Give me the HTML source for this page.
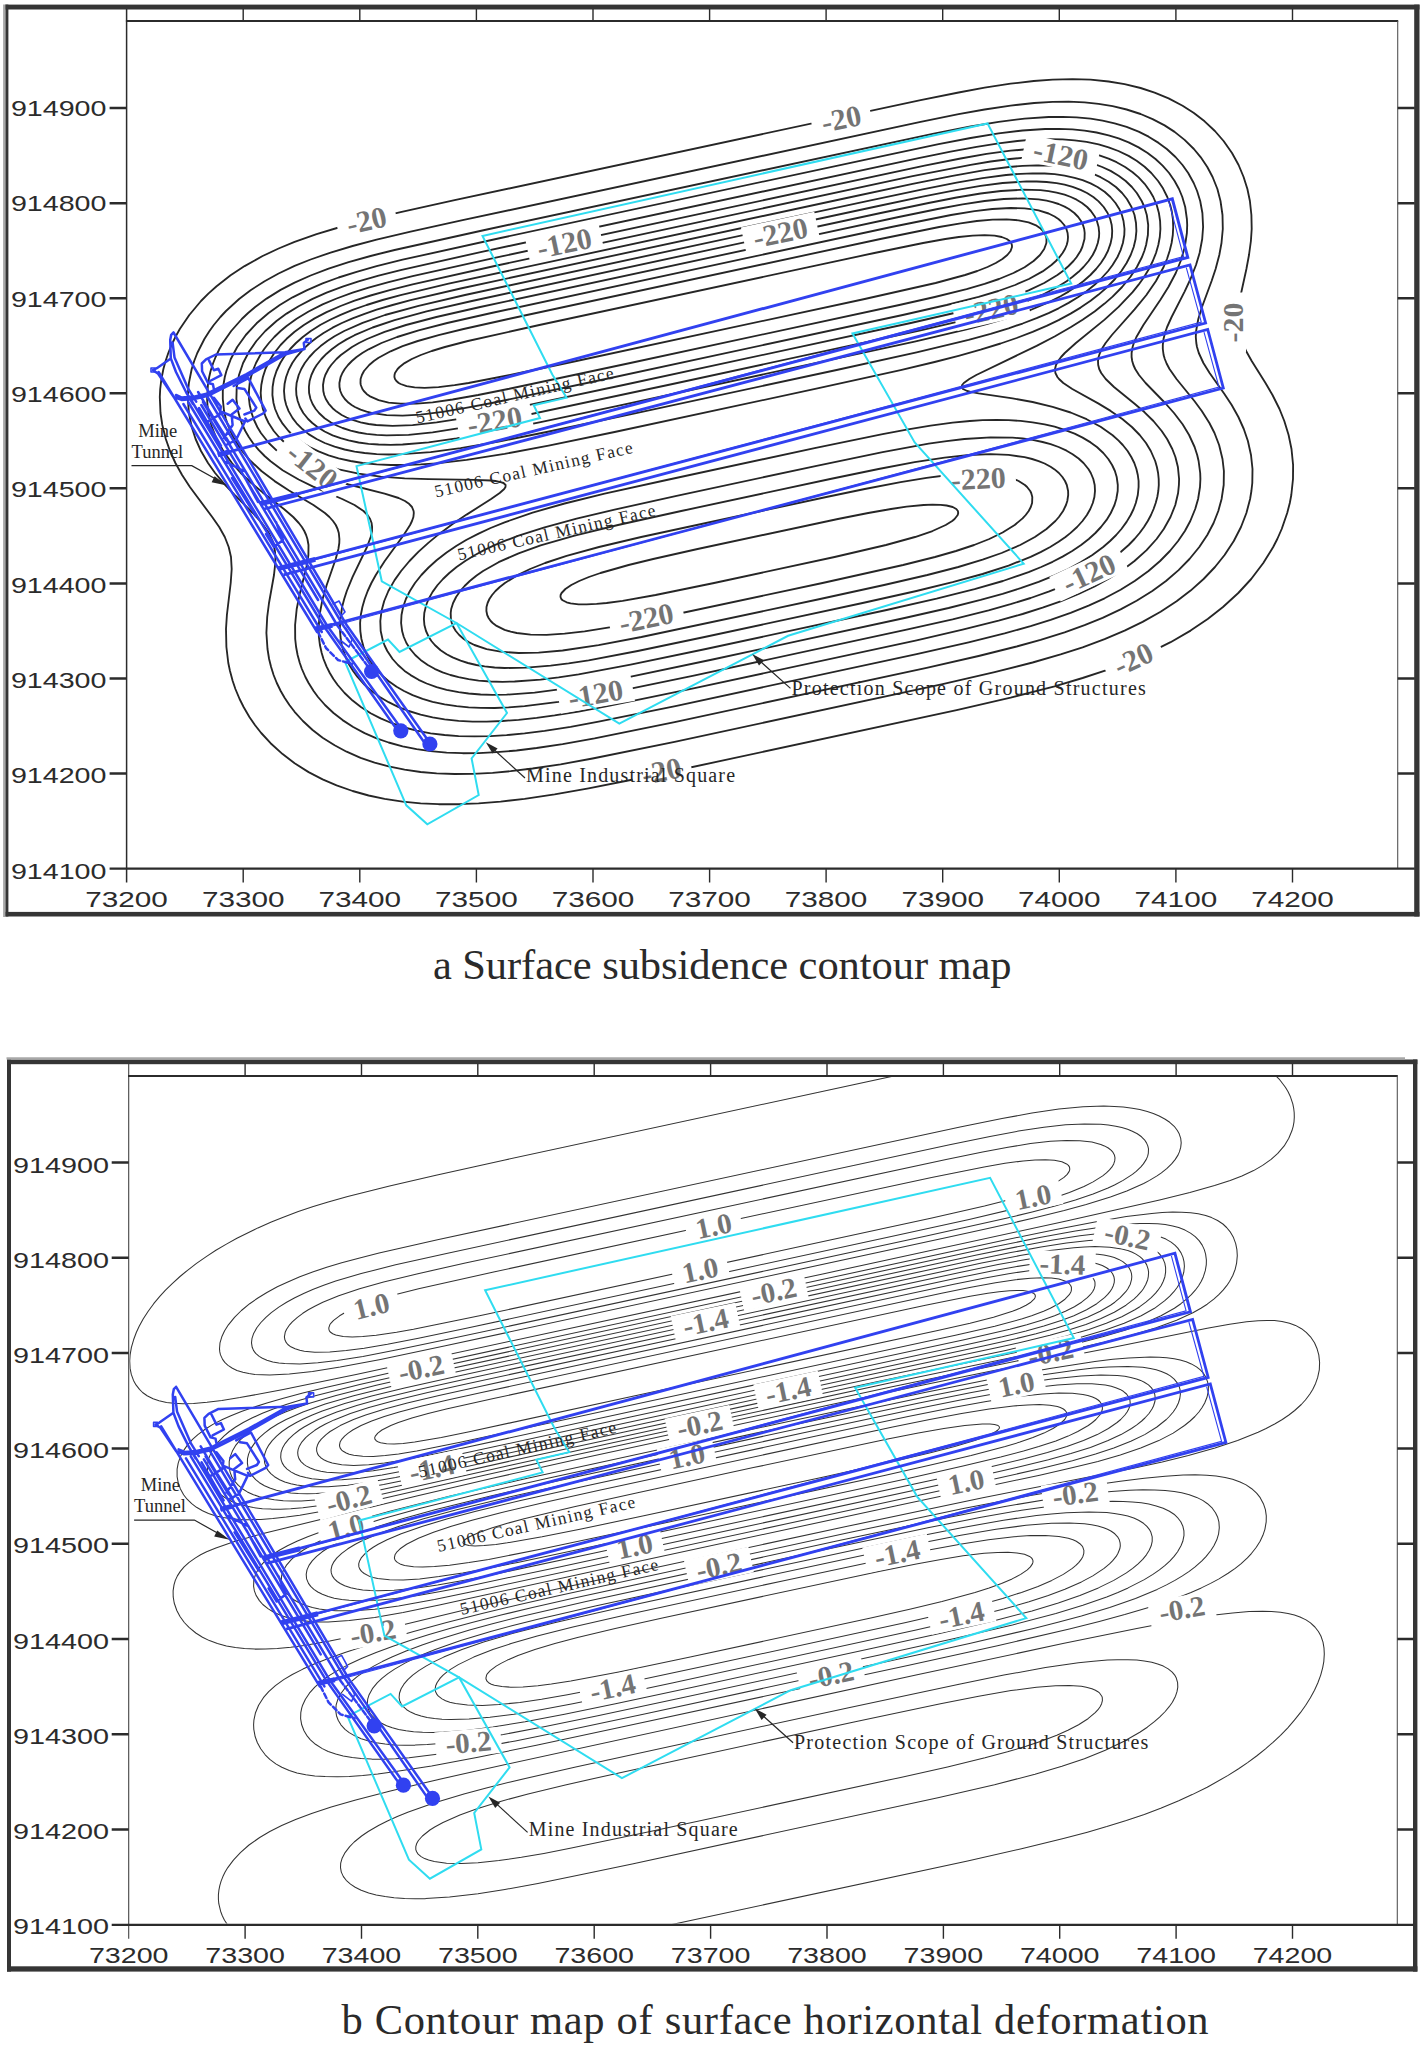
<!DOCTYPE html>
<html><head><meta charset="utf-8"><title>Contour maps</title>
<style>html,body{margin:0;padding:0;background:#fff}svg{display:block}</style></head>
<body>
<svg width="1422" height="2046" viewBox="0 0 1422 2046">
<rect width="1422" height="2046" fill="#fff"/>
<g fill="#353535">
<rect x="5.3" y="4.6" width="3.1" height="911.9"/>
<rect x="5.3" y="4.6" width="1414.2" height="4.9"/>
<rect x="1414.2" y="4.6" width="5.3" height="911.9"/>
<rect x="5.3" y="911.9" width="1414.2" height="4.6"/>
</g>
<path d="M4.2,4.6V917" stroke="#a8a8a8" stroke-width="2.2"/>
<g stroke="#2b2b2b" fill="none">
<path d="M126.6,9.0V882.6" stroke-width="1.5"/>
<path d="M125.89999999999999,21H1398.2" stroke-width="2"/>
<path d="M1397.7,21V868.6" stroke-width="1.1" stroke="#555"/>
<path d="M109.6,868.6H1414.7" stroke-width="2.2"/>
<path d="M243.2,9.0V21M243.2,868.6V882.6M359.8,9.0V21M359.8,868.6V882.6M476.4,9.0V21M476.4,868.6V882.6M593.0,9.0V21M593.0,868.6V882.6M709.6,9.0V21M709.6,868.6V882.6M826.1,9.0V21M826.1,868.6V882.6M942.7,9.0V21M942.7,868.6V882.6M1059.3,9.0V21M1059.3,868.6V882.6M1175.9,9.0V21M1175.9,868.6V882.6M1292.5,9.0V21M1292.5,868.6V882.6" stroke-width="1.4"/>
<path d="M109.6,108.1H126.6M1397.7,108.1H1414.7M109.6,203.2H126.6M1397.7,203.2H1414.7M109.6,298.2H126.6M1397.7,298.2H1414.7M109.6,393.3H126.6M1397.7,393.3H1414.7M109.6,488.3H126.6M1397.7,488.3H1414.7M109.6,583.4H126.6M1397.7,583.4H1414.7M109.6,678.5H126.6M1397.7,678.5H1414.7M109.6,773.5H126.6M1397.7,773.5H1414.7" stroke-width="2.5"/>
</g>
<g font-family="'Liberation Sans',sans-serif" font-size="21.6" fill="#2b2b2b">
<text x="10.9" y="116.2" textLength="95.6" lengthAdjust="spacingAndGlyphs">914900</text>
<text x="10.9" y="211.4" textLength="95.6" lengthAdjust="spacingAndGlyphs">914800</text>
<text x="10.9" y="306.8" textLength="95.6" lengthAdjust="spacingAndGlyphs">914700</text>
<text x="10.9" y="402.0" textLength="95.6" lengthAdjust="spacingAndGlyphs">914600</text>
<text x="10.9" y="497.4" textLength="95.6" lengthAdjust="spacingAndGlyphs">914500</text>
<text x="10.9" y="592.6" textLength="95.6" lengthAdjust="spacingAndGlyphs">914400</text>
<text x="10.9" y="687.9" textLength="95.6" lengthAdjust="spacingAndGlyphs">914300</text>
<text x="10.9" y="783.2" textLength="95.6" lengthAdjust="spacingAndGlyphs">914200</text>
<text x="10.9" y="878.5" textLength="95.6" lengthAdjust="spacingAndGlyphs">914100</text>
<text x="85.3" y="906.6" textLength="82.6" lengthAdjust="spacingAndGlyphs">73200</text>
<text x="201.9" y="906.6" textLength="82.6" lengthAdjust="spacingAndGlyphs">73300</text>
<text x="318.5" y="906.6" textLength="82.6" lengthAdjust="spacingAndGlyphs">73400</text>
<text x="435.1" y="906.6" textLength="82.6" lengthAdjust="spacingAndGlyphs">73500</text>
<text x="551.7" y="906.6" textLength="82.6" lengthAdjust="spacingAndGlyphs">73600</text>
<text x="668.3" y="906.6" textLength="82.6" lengthAdjust="spacingAndGlyphs">73700</text>
<text x="784.8" y="906.6" textLength="82.6" lengthAdjust="spacingAndGlyphs">73800</text>
<text x="901.4" y="906.6" textLength="82.6" lengthAdjust="spacingAndGlyphs">73900</text>
<text x="1018.0" y="906.6" textLength="82.6" lengthAdjust="spacingAndGlyphs">74000</text>
<text x="1134.6" y="906.6" textLength="82.6" lengthAdjust="spacingAndGlyphs">74100</text>
<text x="1251.2" y="906.6" textLength="82.6" lengthAdjust="spacingAndGlyphs">74200</text>
</g>
<g fill="#353535">
<rect x="7" y="1059.5" width="4.0" height="912.1"/>
<rect x="7" y="1059.5" width="1410.4" height="4.7"/>
<rect x="1413" y="1059.5" width="4.4" height="912.1"/>
<rect x="7" y="1966.3" width="1410.4" height="5.3"/>
</g>
<path d="M6.5,1058.4H1405" stroke="#a8a8a8" stroke-width="2.2"/>
<g stroke="#2b2b2b" fill="none">
<path d="M128.7,1063.7V1938.8" stroke-width="1.1" stroke="#444"/>
<path d="M127.99999999999999,1076H1397.8" stroke-width="2"/>
<path d="M1397.3,1076V1924.8" stroke-width="1.1" stroke="#555"/>
<path d="M111.69999999999999,1924.8H1413.5" stroke-width="2.2"/>
<path d="M245.1,1063.7V1076M245.1,1924.8V1938.8M361.5,1063.7V1076M361.5,1924.8V1938.8M477.8,1063.7V1076M477.8,1924.8V1938.8M594.2,1063.7V1076M594.2,1924.8V1938.8M710.6,1063.7V1076M710.6,1924.8V1938.8M827.0,1063.7V1076M827.0,1924.8V1938.8M943.4,1063.7V1076M943.4,1924.8V1938.8M1059.7,1063.7V1076M1059.7,1924.8V1938.8M1176.1,1063.7V1076M1176.1,1924.8V1938.8M1292.5,1063.7V1076M1292.5,1924.8V1938.8" stroke-width="1.4"/>
<path d="M111.69999999999999,1162.5H128.7M1397.3,1162.5H1413.5M111.69999999999999,1257.8H128.7M1397.3,1257.8H1413.5M111.69999999999999,1353.1H128.7M1397.3,1353.1H1413.5M111.69999999999999,1448.4H128.7M1397.3,1448.4H1413.5M111.69999999999999,1543.7H128.7M1397.3,1543.7H1413.5M111.69999999999999,1639.0H128.7M1397.3,1639.0H1413.5M111.69999999999999,1734.2H128.7M1397.3,1734.2H1413.5M111.69999999999999,1829.5H128.7M1397.3,1829.5H1413.5" stroke-width="2.5"/>
</g>
<g font-family="'Liberation Sans',sans-serif" font-size="21.6" fill="#2b2b2b">
<text x="13.0" y="1172.5" textLength="96" lengthAdjust="spacingAndGlyphs">914900</text>
<text x="13.0" y="1267.7" textLength="96" lengthAdjust="spacingAndGlyphs">914800</text>
<text x="13.0" y="1362.9" textLength="96" lengthAdjust="spacingAndGlyphs">914700</text>
<text x="13.0" y="1458.1" textLength="96" lengthAdjust="spacingAndGlyphs">914600</text>
<text x="13.0" y="1553.3" textLength="96" lengthAdjust="spacingAndGlyphs">914500</text>
<text x="13.0" y="1648.5" textLength="96" lengthAdjust="spacingAndGlyphs">914400</text>
<text x="13.0" y="1743.7" textLength="96" lengthAdjust="spacingAndGlyphs">914300</text>
<text x="13.0" y="1838.9" textLength="96" lengthAdjust="spacingAndGlyphs">914200</text>
<text x="13.0" y="1934.1" textLength="96" lengthAdjust="spacingAndGlyphs">914100</text>
<text x="88.9" y="1962.5" textLength="79.6" lengthAdjust="spacingAndGlyphs">73200</text>
<text x="205.3" y="1962.5" textLength="79.6" lengthAdjust="spacingAndGlyphs">73300</text>
<text x="321.7" y="1962.5" textLength="79.6" lengthAdjust="spacingAndGlyphs">73400</text>
<text x="438.0" y="1962.5" textLength="79.6" lengthAdjust="spacingAndGlyphs">73500</text>
<text x="554.4" y="1962.5" textLength="79.6" lengthAdjust="spacingAndGlyphs">73600</text>
<text x="670.8" y="1962.5" textLength="79.6" lengthAdjust="spacingAndGlyphs">73700</text>
<text x="787.2" y="1962.5" textLength="79.6" lengthAdjust="spacingAndGlyphs">73800</text>
<text x="903.6" y="1962.5" textLength="79.6" lengthAdjust="spacingAndGlyphs">73900</text>
<text x="1019.9" y="1962.5" textLength="79.6" lengthAdjust="spacingAndGlyphs">74000</text>
<text x="1136.3" y="1962.5" textLength="79.6" lengthAdjust="spacingAndGlyphs">74100</text>
<text x="1252.7" y="1962.5" textLength="79.6" lengthAdjust="spacingAndGlyphs">74200</text>
</g>
<g font-family="'Liberation Serif',serif" fill="#2a2a2a" font-size="42.5">
<text x="432.9" y="978.9" textLength="578.7" lengthAdjust="spacing">a Surface subsidence contour map</text>
<text x="341.4" y="2033.7" textLength="867.2" lengthAdjust="spacing">b Contour map of surface horizontal deformation</text>
</g>
<clipPath id="c1"><rect x="127.4" y="22" width="1269.8" height="845.5"/></clipPath>
<g clip-path="url(#c1)" fill="none" stroke="#262626" stroke-width="1.85" stroke-linejoin="round">
<path d="M1033.8,81.0 1052.6,79.6 1072.6,79.1 1090.6,79.7 1108.6,81.5 1124.6,84.1 1140.6,88.0 1154.6,92.6 1168.6,98.4 1182.6,105.7 1193.9,113.0 1204.6,121.3 1214.9,131.0 1223.6,141.0 1232.0,153.0 1238.6,165.0 1243.6,177.0 1247.4,189.0 1249.9,201.0 1251.4,215.0 1251.7,229.0 1250.9,241.0 1249.0,255.0 1246.4,269.0 1240.7,295.0 1238.7,307.0 1237.9,319.0 1238.7,329.0 1241.1,339.0 1246.1,351.0 1251.7,361.0 1265.5,383.0 1272.5,395.0 1279.5,409.0 1284.3,421.0 1288.6,435.0 1291.5,449.0 1293.1,465.0 1293.0,479.0 1291.3,495.0 1289.8,503.0 1287.2,513.0 1281.7,529.0 1277.3,539.0 1273.2,547.0 1263.3,563.0 1251.2,579.0 1238.3,593.0 1223.0,607.0 1207.7,619.0 1190.6,630.6 1170.6,642.2 1150.6,652.2 1128.6,661.7 1106.6,670.1 1082.6,678.0 1054.6,686.3 1010.6,697.6 956.6,710.1 678.6,770.0 630.6,780.0 588.6,788.3 554.6,794.3 524.6,798.8 500.6,801.6 478.6,803.4 458.6,804.2 438.6,804.2 420.6,803.4 402.6,801.7 384.6,798.9 368.6,795.5 352.6,791.0 336.6,785.4 322.6,779.4 308.6,772.1 294.6,763.2 282.6,754.1 270.6,743.2 261.2,733.0 254.9,725.0 249.4,717.0 243.6,707.0 239.6,699.0 235.4,689.0 232.7,681.0 230.0,671.0 228.3,663.0 226.4,647.0 226.0,629.0 226.9,615.0 230.7,583.0 231.7,569.0 231.0,557.0 228.7,547.0 224.8,537.0 219.2,527.0 212.2,517.0 189.9,487.0 182.1,475.0 175.4,463.0 170.0,451.0 165.8,439.0 162.3,425.0 160.5,413.0 159.8,397.0 160.2,389.0 161.4,379.0 163.4,369.0 165.6,361.0 168.3,353.0 171.5,345.0 175.4,337.0 179.8,329.0 189.3,315.0 201.0,301.0 208.6,293.4 216.6,286.2 230.6,275.3 244.6,266.1 262.6,256.0 278.6,248.5 294.6,241.9 316.6,234.2 338.6,227.5 366.6,220.1 400.6,212.1 454.6,200.2 920.6,100.1 958.6,92.5 984.6,87.7 1010.6,83.7Z"/>
<path d="M1034.2,103.0 1052.6,101.9 1068.6,101.7 1084.6,102.4 1098.6,103.8 1112.6,106.1 1126.6,109.5 1140.6,114.0 1152.6,119.1 1164.6,125.4 1174.6,131.9 1184.6,139.9 1193.9,149.0 1200.6,157.1 1207.3,167.0 1212.6,177.0 1217.4,189.0 1220.5,201.0 1222.5,215.0 1222.8,229.0 1221.5,243.0 1219.3,255.0 1215.6,269.0 1211.6,281.0 1202.0,307.0 1198.3,319.0 1196.1,331.0 1195.8,337.0 1196.3,343.0 1197.0,347.0 1198.8,353.0 1203.4,363.0 1209.6,373.0 1224.6,394.2 1231.7,405.0 1238.4,417.0 1243.8,429.0 1247.9,441.0 1251.0,455.0 1252.5,469.0 1252.3,483.0 1251.4,491.0 1250.1,499.0 1246.4,513.0 1241.0,527.0 1233.8,541.0 1224.6,555.0 1215.0,567.0 1203.6,579.0 1190.6,590.6 1176.6,601.3 1160.6,611.8 1142.6,621.9 1124.6,630.7 1104.6,639.2 1082.6,647.3 1060.6,654.4 1032.6,662.5 994.6,672.1 942.6,684.1 674.6,741.9 592.6,758.5 560.6,764.3 532.6,768.5 510.6,771.2 492.6,772.8 472.6,773.8 454.6,774.0 436.6,773.4 420.6,772.0 404.6,769.7 388.6,766.4 374.6,762.6 360.6,757.8 346.6,751.7 334.6,745.3 322.6,737.7 312.6,730.0 302.9,721.0 294.6,711.8 289.4,705.0 284.6,697.8 280.7,691.0 276.8,683.0 273.6,675.0 271.1,667.0 269.1,659.0 267.5,649.0 266.4,633.0 267.2,617.0 269.0,603.0 274.0,575.0 275.3,563.0 275.4,557.0 274.9,551.0 273.7,545.0 272.5,541.0 268.8,533.0 261.8,523.0 252.8,513.0 234.6,494.9 224.6,484.4 215.1,473.0 208.0,463.0 201.0,451.0 195.6,439.0 191.7,427.0 188.9,413.0 187.9,399.0 188.1,391.0 188.9,383.0 191.7,369.0 194.2,361.0 197.3,353.0 204.4,339.0 209.5,331.0 213.8,325.0 220.4,317.0 226.0,311.0 239.1,299.0 250.6,290.2 264.6,281.2 278.6,273.5 294.6,265.9 310.6,259.5 330.6,252.6 352.6,246.0 376.6,239.7 410.6,231.7 462.6,220.2 920.6,121.9 958.6,114.2 984.6,109.5 1010.6,105.6Z"/>
<path d="M1048.6,117.0 1062.6,116.8 1076.6,117.4 1090.6,118.7 1102.6,120.6 1114.6,123.3 1126.6,126.9 1138.6,131.7 1148.6,136.7 1158.6,142.9 1166.8,149.0 1175.5,157.0 1182.5,165.0 1188.2,173.0 1193.7,183.0 1197.1,191.0 1200.2,201.0 1202.4,213.0 1203.1,227.0 1202.2,239.0 1199.6,253.0 1196.0,265.0 1190.5,279.0 1184.6,291.6 1171.6,317.0 1167.1,327.0 1165.0,333.0 1163.5,339.0 1162.8,345.0 1162.8,349.0 1163.6,355.0 1164.8,359.0 1166.6,363.5 1169.5,369.0 1176.5,379.0 1194.4,401.0 1201.8,411.0 1209.4,423.0 1214.5,433.0 1219.1,445.0 1222.5,459.0 1223.9,471.0 1223.7,485.0 1221.6,499.0 1218.3,511.0 1213.6,523.0 1207.3,535.0 1199.3,547.0 1189.5,559.0 1178.6,570.1 1166.0,581.0 1152.3,591.0 1136.6,600.8 1120.6,609.4 1102.6,617.8 1084.6,625.1 1064.6,632.3 1040.6,639.8 1016.6,646.5 978.6,656.0 926.6,667.8 674.6,722.1 594.6,738.4 562.6,744.1 536.6,748.0 516.6,750.5 496.6,752.2 478.6,753.1 462.6,753.2 446.6,752.7 430.6,751.2 416.6,749.2 402.6,746.4 388.6,742.5 376.6,738.3 364.6,733.1 353.2,727.0 342.6,720.1 333.5,713.0 325.0,705.0 318.0,697.0 313.6,691.0 308.6,683.0 305.4,677.0 301.9,669.0 299.8,663.0 297.6,655.0 296.1,647.0 295.2,639.0 295.1,625.0 296.7,609.0 299.5,595.0 306.4,567.0 308.4,555.0 308.5,545.0 307.4,539.0 306.1,535.0 304.3,531.0 301.9,527.0 298.8,523.0 293.2,517.0 283.9,509.0 262.6,492.4 251.3,483.0 240.8,473.0 231.9,463.0 223.3,451.0 216.7,439.0 211.9,427.0 209.7,419.0 208.5,413.0 207.6,407.0 207.1,399.0 207.9,385.0 209.2,377.0 210.6,371.0 213.2,363.0 215.6,357.0 219.4,349.0 222.8,343.0 231.2,331.0 241.8,319.0 248.1,313.0 255.2,307.0 266.6,298.6 280.6,289.9 294.6,282.6 310.6,275.5 328.6,268.7 348.6,262.2 370.6,256.0 394.6,250.0 484.6,230.0 932.6,133.9 970.6,126.5 998.6,121.9 1024.6,118.6Z"/>
<path d="M1045.1,129.0 1058.6,128.8 1072.6,129.4 1084.6,130.6 1096.6,132.5 1108.6,135.3 1118.6,138.4 1128.6,142.4 1138.6,147.4 1147.6,153.0 1155.5,159.0 1162.6,165.6 1169.1,173.0 1174.6,181.0 1179.0,189.0 1182.3,197.0 1185.2,207.0 1186.9,219.0 1187.2,225.0 1186.9,233.0 1184.8,247.0 1180.7,261.0 1175.8,273.0 1168.4,287.0 1160.6,299.6 1143.4,325.0 1136.4,337.0 1133.8,343.0 1132.6,347.0 1131.6,353.0 1131.6,357.0 1132.2,361.0 1133.4,365.0 1135.2,369.0 1139.0,375.0 1145.6,383.0 1165.1,403.0 1174.0,413.0 1182.6,424.3 1189.1,435.0 1194.6,447.0 1197.2,455.0 1198.6,461.0 1200.2,473.0 1200.4,479.0 1200.0,487.0 1198.1,499.0 1195.2,509.0 1190.3,521.0 1184.9,531.0 1178.1,541.0 1169.9,551.0 1160.1,561.0 1148.5,571.0 1134.7,581.0 1120.6,589.8 1104.6,598.3 1088.6,605.6 1070.6,612.9 1050.6,619.9 1030.6,626.1 1004.6,633.4 968.6,642.3 916.6,654.1 676.6,705.8 598.6,721.7 570.6,726.8 544.6,730.9 524.6,733.4 506.6,735.1 490.6,736.1 474.6,736.4 458.6,736.1 444.6,735.0 430.6,733.3 416.6,730.6 404.6,727.5 392.6,723.5 380.6,718.4 370.6,713.2 360.9,707.0 352.6,700.6 344.6,693.0 337.7,685.0 333.4,679.0 329.8,673.0 326.6,666.6 323.5,659.0 321.7,653.0 319.9,645.0 318.9,637.0 318.6,629.0 319.5,615.0 322.6,599.0 326.7,585.0 335.7,559.0 338.4,549.0 339.3,543.0 339.4,539.0 338.8,533.0 337.6,529.0 335.8,525.0 333.0,521.0 329.4,517.0 324.9,513.0 313.4,505.0 288.6,490.2 274.6,481.1 261.4,471.0 250.7,461.0 245.3,455.0 240.6,449.0 233.1,437.0 227.8,425.0 225.9,419.0 224.0,411.0 222.8,399.0 222.8,391.0 223.4,385.0 224.8,377.0 226.4,371.0 230.8,359.0 237.2,347.0 245.8,335.0 256.6,323.3 268.6,313.0 279.8,305.0 292.6,297.3 306.6,290.3 322.6,283.4 338.6,277.5 356.6,271.8 376.6,266.2 402.6,259.7 500.6,238.0 864.6,159.8 938.6,144.2 970.6,138.0 998.6,133.4 1022.6,130.5Z"/>
<path d="M1017.4,141.0 1032.6,139.7 1048.6,139.1 1062.6,139.4 1074.6,140.3 1086.6,141.9 1098.6,144.4 1108.6,147.3 1118.4,151.0 1128.6,155.9 1136.6,160.8 1144.6,166.8 1151.3,173.0 1158.1,181.0 1162.6,187.7 1167.3,197.0 1170.2,205.0 1171.7,211.0 1172.9,219.0 1173.2,227.0 1172.8,235.0 1171.6,243.0 1169.6,251.0 1167.0,259.0 1163.6,267.0 1156.0,281.0 1146.4,295.0 1134.6,309.4 1111.9,335.0 1105.6,343.0 1101.8,349.0 1099.9,353.0 1098.6,357.0 1098.0,361.0 1098.2,365.0 1099.2,369.0 1101.2,373.0 1105.7,379.0 1114.0,387.0 1134.6,403.7 1144.6,412.3 1153.4,421.0 1161.7,431.0 1167.1,439.0 1172.3,449.0 1175.4,457.0 1177.9,467.0 1179.1,479.0 1178.9,485.0 1178.1,493.0 1175.3,505.0 1170.5,517.0 1163.8,529.0 1156.6,539.0 1146.6,550.1 1134.5,561.0 1122.6,569.9 1108.6,578.8 1094.6,586.4 1078.6,594.0 1060.6,601.3 1042.6,607.7 1022.6,614.0 998.6,620.7 962.6,629.7 916.6,640.3 694.6,688.2 608.6,705.9 578.6,711.5 554.6,715.4 536.6,717.9 518.6,719.8 502.6,721.0 486.6,721.6 472.6,721.6 458.6,720.8 444.6,719.4 432.6,717.4 420.6,714.6 408.7,711.0 398.6,707.1 388.6,702.2 379.8,697.0 371.6,691.0 364.6,684.8 357.5,677.0 353.1,671.0 349.4,665.0 346.5,659.0 343.5,651.0 341.8,645.0 340.5,637.0 339.9,629.0 340.1,621.0 342.1,607.0 344.2,599.0 346.8,591.0 352.6,576.9 367.0,547.0 370.7,537.0 372.0,531.0 372.1,527.0 371.6,523.0 370.1,519.0 367.5,515.0 363.5,511.0 354.5,505.0 342.2,499.0 312.6,486.3 298.6,479.5 282.6,470.2 270.6,461.3 264.6,456.0 258.6,449.9 252.9,443.0 248.8,437.0 245.3,431.0 242.5,425.0 240.2,419.0 238.0,411.0 236.4,399.0 236.7,387.0 239.0,375.0 243.1,363.0 249.4,351.0 256.4,341.0 265.3,331.0 276.5,321.0 286.6,313.6 298.6,306.2 312.6,298.9 326.6,292.7 342.6,286.7 358.6,281.4 378.6,275.7 400.6,270.1 480.6,252.1 918.6,158.1 950.6,151.6 976.6,146.8 998.6,143.3Z"/>
<path d="M1029.3,149.0 1042.6,148.4 1054.6,148.5 1066.6,149.2 1078.6,150.7 1088.6,152.5 1098.6,155.2 1108.6,158.7 1116.6,162.2 1125.1,167.0 1132.6,172.2 1138.6,177.4 1144.6,183.8 1149.8,191.0 1153.3,197.0 1156.7,205.0 1158.9,213.0 1160.1,221.0 1160.4,229.0 1159.8,237.0 1158.3,245.0 1156.0,253.0 1152.8,261.0 1148.9,269.0 1144.1,277.0 1138.6,284.7 1132.6,292.2 1118.6,306.9 1104.6,319.6 1075.9,343.0 1064.8,353.0 1061.1,357.0 1058.1,361.0 1056.0,365.0 1055.0,369.0 1055.4,373.0 1057.4,377.0 1059.0,379.0 1063.3,383.0 1072.3,389.0 1098.6,403.6 1110.6,410.9 1122.3,419.0 1131.9,427.0 1139.7,435.0 1146.0,443.0 1150.8,451.0 1155.2,461.0 1156.9,467.0 1158.1,473.0 1158.7,479.0 1158.8,485.0 1158.3,491.0 1157.3,497.0 1155.7,503.0 1153.6,509.0 1151.0,515.0 1147.8,521.0 1144.0,527.0 1139.6,533.0 1134.5,539.0 1128.7,545.0 1117.3,555.0 1106.3,563.0 1093.4,571.0 1080.6,577.9 1064.6,585.3 1048.6,591.7 1030.6,598.0 1010.6,604.2 988.6,610.3 952.6,619.3 906.6,629.7 692.6,675.9 612.6,692.4 582.6,698.0 558.6,701.9 524.6,706.2 508.6,707.4 494.6,708.0 480.6,707.9 468.6,707.4 456.6,706.2 444.6,704.4 432.6,701.8 422.6,698.8 412.6,695.1 404.0,691.0 396.6,686.8 388.4,681.0 381.5,675.0 374.6,667.3 370.2,661.0 365.9,653.0 363.6,647.0 361.4,639.0 360.3,631.0 360.1,623.0 360.8,615.0 362.4,607.0 364.7,599.0 367.7,591.0 371.4,583.0 375.8,575.0 384.6,561.2 403.7,535.0 410.1,525.0 412.0,521.0 413.4,517.0 413.8,513.0 413.6,511.0 412.0,507.0 408.6,503.4 405.0,501.0 398.6,498.0 384.6,493.6 348.6,484.5 332.6,479.8 316.6,474.1 302.6,467.8 290.5,461.0 278.6,452.3 268.8,443.0 260.9,433.0 257.3,427.0 253.6,419.0 251.6,413.0 249.7,405.0 249.0,399.0 248.9,391.0 249.7,383.0 251.0,377.0 253.5,369.0 256.0,363.0 260.3,355.0 264.2,349.0 268.9,343.0 274.3,337.0 280.6,331.0 286.6,326.0 296.6,318.8 308.6,311.5 322.6,304.4 336.6,298.5 352.6,292.7 368.6,287.6 388.6,282.1 412.6,276.1 494.6,257.9 924.6,165.6 960.6,158.5 986.6,153.9 1010.6,150.7Z"/>
<path d="M1010.1,159.0 1024.6,157.7 1038.6,157.1 1050.6,157.1 1062.6,157.9 1074.6,159.4 1084.6,161.4 1094.6,164.2 1102.2,167.0 1110.6,170.9 1118.6,175.7 1125.7,181.0 1131.9,187.0 1136.8,193.0 1141.7,201.0 1144.4,207.0 1146.8,215.0 1148.2,225.0 1147.9,235.0 1146.1,245.0 1144.3,251.0 1142.0,257.0 1136.9,267.0 1130.3,277.0 1122.1,287.0 1112.6,296.6 1104.6,303.6 1094.6,311.4 1082.6,319.8 1070.6,327.3 1054.6,336.5 1036.6,345.9 976.3,375.0 969.3,379.0 963.8,383.0 962.1,385.0 961.6,387.0 962.9,389.0 967.2,391.0 970.6,391.8 978.6,393.4 1012.6,398.4 1032.6,402.0 1052.6,406.8 1070.6,412.5 1086.6,419.2 1100.6,426.7 1112.6,435.2 1118.6,440.6 1122.8,445.0 1127.6,451.0 1131.3,457.0 1134.3,463.0 1136.4,469.0 1137.8,475.0 1138.6,481.0 1138.6,487.0 1137.8,495.0 1135.8,503.0 1133.6,509.0 1130.7,515.0 1126.6,521.9 1121.4,529.0 1116.2,535.0 1110.1,541.0 1103.2,547.0 1092.4,555.0 1080.6,562.4 1068.3,569.0 1054.6,575.4 1038.6,581.9 1020.6,588.2 1002.6,593.8 980.6,599.9 948.6,608.0 904.6,618.0 712.6,659.5 622.6,678.3 592.6,684.0 568.6,688.1 534.6,692.6 506.6,694.7 492.6,694.9 480.6,694.5 468.6,693.5 458.6,692.2 446.6,689.8 436.6,687.1 426.6,683.5 418.6,679.8 410.6,675.1 404.6,670.9 398.0,665.0 392.6,659.0 387.3,651.0 384.6,645.5 382.9,641.0 380.7,631.0 380.3,621.0 381.5,611.0 384.2,601.0 388.4,591.0 394.6,580.1 401.1,571.0 409.5,561.0 418.6,551.6 428.6,542.6 438.6,534.4 452.6,524.0 466.6,514.6 491.1,499.0 499.7,493.0 504.2,489.0 505.5,487.0 505.6,485.0 503.5,483.0 500.6,482.1 495.3,481.0 490.6,480.5 474.6,479.8 428.6,479.2 404.6,478.4 380.6,476.6 358.6,473.6 338.6,469.3 320.6,463.6 305.9,457.0 298.6,452.9 292.6,449.0 285.1,443.0 278.9,437.0 273.8,431.0 268.6,423.0 265.7,417.0 262.9,409.0 261.3,401.0 260.7,393.0 261.3,385.0 262.9,377.0 265.5,369.0 269.3,361.0 274.3,353.0 280.6,345.0 286.6,338.8 294.6,331.8 303.9,325.0 314.6,318.4 326.6,312.1 340.6,306.0 354.6,300.7 370.6,295.5 390.6,289.8 412.6,284.3 494.6,266.0 912.6,176.2 970.6,164.8 990.6,161.5Z"/>
<path d="M1009.1,167.0 1022.6,165.8 1036.6,165.3 1048.6,165.5 1060.6,166.3 1072.6,168.1 1082.6,170.4 1092.6,173.7 1100.6,177.2 1108.6,181.7 1115.9,187.0 1122.1,193.0 1126.9,199.0 1131.5,207.0 1134.5,215.0 1136.0,223.0 1136.4,231.0 1135.6,239.0 1133.7,247.0 1130.7,255.0 1126.6,263.0 1121.4,271.0 1115.0,279.0 1107.3,287.0 1098.6,294.6 1090.6,300.8 1080.6,307.6 1070.6,313.6 1058.6,320.1 1046.6,325.8 1032.6,331.8 1016.6,338.0 1000.6,343.5 980.6,349.7 958.6,355.8 934.6,362.0 900.6,370.1 818.6,388.2 614.6,432.0 548.6,445.7 504.6,453.9 466.6,459.9 436.6,463.3 420.6,464.4 404.6,465.0 390.6,465.0 376.6,464.4 362.6,463.0 350.6,461.0 338.6,458.3 328.6,455.3 318.6,451.4 309.5,447.0 302.6,442.8 294.6,436.8 288.5,431.0 282.6,423.7 278.5,417.0 275.1,409.0 273.5,403.0 272.4,395.0 272.6,387.0 273.9,379.0 276.5,371.0 280.3,363.0 284.6,356.1 290.2,349.0 296.0,343.0 302.8,337.0 310.8,331.0 320.6,324.8 330.6,319.5 340.6,314.8 352.6,309.9 366.6,305.0 382.6,300.0 400.6,295.1 448.6,283.7 846.6,198.0 912.6,183.9 952.6,175.8 984.6,170.2ZM969.9,421.0 982.6,420.2 996.6,419.9 1008.6,420.1 1020.6,420.9 1032.6,422.3 1044.6,424.3 1054.6,426.7 1064.6,429.8 1074.6,433.7 1082.6,437.6 1090.6,442.4 1096.9,447.0 1103.3,453.0 1108.3,459.0 1112.1,465.0 1114.9,471.0 1116.7,477.0 1117.8,485.0 1117.7,491.0 1116.3,499.0 1114.5,505.0 1110.8,513.0 1106.6,519.9 1101.0,527.0 1095.4,533.0 1088.8,539.0 1081.1,545.0 1072.2,551.0 1062.6,556.6 1052.6,561.8 1041.2,567.0 1028.6,572.1 1002.9,581.0 974.6,589.2 936.6,598.7 886.6,610.0 705.8,649.0 630.6,664.7 578.6,674.4 558.6,677.4 540.6,679.6 514.6,681.5 502.6,681.8 490.6,681.5 478.6,680.6 468.6,679.2 458.6,677.2 450.4,675.0 442.6,672.3 434.6,668.8 427.8,665.0 420.6,659.9 415.2,655.0 410.2,649.0 406.4,643.0 403.8,637.0 402.1,631.0 401.1,623.0 401.5,615.0 403.1,607.0 405.9,599.0 409.9,591.0 415.0,583.0 421.4,575.0 428.6,567.5 436.6,560.3 446.6,552.5 456.6,545.8 466.6,539.8 478.6,533.6 490.6,528.0 504.6,522.3 532.6,512.6 564.6,503.5 604.6,493.7 666.6,480.0 814.6,448.1 882.6,434.1 906.6,429.6 930.6,425.6 952.6,422.7Z"/>
<path d="M1006.1,175.0 1020.6,173.8 1032.6,173.3 1044.6,173.5 1054.6,174.2 1064.6,175.6 1074.6,177.8 1082.6,180.2 1090.6,183.4 1097.5,187.0 1104.6,191.8 1110.4,197.0 1115.5,203.0 1119.3,209.0 1121.9,215.0 1123.5,221.0 1124.5,229.0 1124.3,235.0 1122.9,243.0 1120.6,250.1 1117.5,257.0 1112.6,265.0 1108.1,271.0 1100.8,279.0 1094.3,285.0 1086.6,291.2 1078.3,297.0 1068.6,302.9 1058.6,308.3 1048.6,313.1 1036.6,318.2 1022.6,323.5 1008.6,328.3 990.6,333.8 968.6,339.8 916.6,352.3 836.6,370.0 632.6,413.8 546.6,432.0 498.6,441.6 460.6,448.2 430.6,452.2 402.6,454.2 388.6,454.5 376.6,454.1 364.6,453.0 354.6,451.6 344.6,449.5 334.6,446.7 324.7,443.0 316.6,439.0 308.6,434.1 302.6,429.3 296.6,423.3 292.6,418.1 288.6,411.1 286.2,405.0 284.7,399.0 284.0,391.0 284.6,383.7 286.1,377.0 288.6,370.2 292.3,363.0 296.6,356.8 302.6,349.8 309.8,343.0 316.6,337.7 323.6,333.0 332.6,327.7 341.9,323.0 352.6,318.3 364.6,313.8 376.6,309.7 392.6,305.0 410.6,300.2 460.6,288.5 870.6,200.3 922.6,189.3 956.6,182.6 982.6,178.1ZM964.4,439.0 990.6,437.3 1012.6,437.6 1022.6,438.5 1032.6,439.9 1042.6,442.0 1050.6,444.2 1058.6,447.0 1066.6,450.7 1072.6,454.2 1078.6,458.5 1083.5,463.0 1088.4,469.0 1090.8,473.0 1093.3,479.0 1094.7,485.0 1095.0,491.0 1094.4,497.0 1092.8,503.0 1090.3,509.0 1086.9,515.0 1082.5,521.0 1077.1,527.0 1070.6,532.9 1065.5,537.0 1058.6,541.8 1050.2,547.0 1040.6,552.1 1030.6,556.8 1008.6,565.6 982.6,574.0 952.6,582.2 916.4,591.0 862.6,603.0 704.6,637.0 637.7,651.0 588.6,660.3 568.6,663.4 550.6,665.7 526.6,667.7 504.6,668.0 494.6,667.5 484.6,666.4 476.4,665.0 467.9,663.0 460.6,660.7 452.6,657.4 446.6,654.2 440.6,650.2 434.8,645.0 431.4,641.0 428.6,636.7 426.0,631.0 424.4,625.0 423.9,619.0 424.3,613.0 426.2,605.0 428.6,599.0 432.6,591.9 437.6,585.0 443.0,579.0 449.3,573.0 456.6,567.0 465.2,561.0 474.6,555.3 484.6,549.9 494.6,545.2 506.6,540.2 518.6,535.7 544.6,527.3 576.6,518.6 614.6,509.6 676.6,495.9 816.6,465.8 882.6,452.1 928.6,443.7 946.6,441.1Z"/>
<path d="M1002.7,183.0 1026.6,181.4 1036.6,181.5 1046.6,182.0 1056.6,183.2 1064.6,184.7 1072.6,186.9 1080.6,189.9 1087.0,193.0 1093.3,197.0 1098.6,201.4 1103.7,207.0 1107.6,213.0 1110.2,219.0 1111.7,225.0 1112.2,231.0 1111.9,237.0 1110.6,243.4 1107.9,251.0 1104.8,257.0 1100.9,263.0 1096.1,269.0 1090.4,275.0 1083.6,281.0 1076.6,286.3 1068.6,291.6 1060.6,296.2 1050.6,301.4 1030.6,310.0 1004.6,318.9 986.6,324.2 966.6,329.4 914.6,341.7 616.6,406.1 540.6,422.2 492.6,431.9 456.6,438.3 428.6,442.3 402.6,444.5 390.6,444.8 378.6,444.5 368.6,443.8 358.6,442.5 348.6,440.4 340.6,438.2 332.6,435.3 324.6,431.5 317.4,427.0 312.3,423.0 308.1,419.0 303.3,413.0 299.9,407.0 297.7,401.0 296.4,395.0 296.1,389.0 296.6,383.0 298.7,375.0 301.3,369.0 304.8,363.0 309.4,357.0 314.6,351.4 320.6,346.1 327.3,341.0 334.6,336.3 344.2,331.0 362.6,322.8 385.0,315.0 418.6,305.8 465.0,295.0 873.7,207.0 922.6,196.7 954.6,190.4 980.6,185.9ZM969.2,455.0 990.6,454.1 1008.6,454.9 1024.6,457.2 1032.1,459.0 1038.6,461.1 1044.6,463.5 1050.6,466.7 1054.6,469.4 1058.9,473.0 1062.4,477.0 1065.0,481.0 1066.8,485.0 1068.1,491.0 1068.2,495.0 1067.3,501.0 1066.0,505.0 1063.1,511.0 1058.9,517.0 1055.4,521.0 1046.5,529.0 1034.9,537.0 1020.2,545.0 1001.6,553.0 982.6,559.7 958.3,567.0 927.3,575.0 884.1,585.0 820.1,599.0 641.4,637.0 598.6,645.1 562.6,650.5 538.6,652.7 518.6,653.0 500.6,651.7 486.6,649.1 474.4,645.0 468.6,642.1 463.8,639.0 459.2,635.0 455.8,631.0 453.4,627.0 451.8,623.0 450.9,619.0 450.7,613.0 451.2,609.0 453.1,603.0 456.1,597.0 460.2,591.0 464.6,586.0 469.8,581.0 476.6,575.5 483.1,571.0 498.6,562.2 518.6,553.3 540.6,545.4 574.6,535.6 618.0,525.0 681.2,511.0 830.2,479.0 878.6,469.0 914.6,462.2 944.6,457.6Z"/>
<path d="M1000.9,191.0 1022.6,189.7 1040.6,190.2 1048.6,191.1 1056.6,192.6 1064.6,194.7 1070.9,197.0 1076.6,199.7 1082.0,203.0 1087.1,207.0 1090.9,211.0 1094.6,216.2 1096.9,221.0 1098.6,227.0 1099.2,233.0 1099.0,237.0 1097.8,243.0 1095.7,249.0 1092.7,255.0 1088.6,261.0 1083.5,267.0 1078.6,271.8 1072.6,276.8 1066.6,281.2 1058.6,286.3 1042.6,294.7 1022.6,302.9 1000.6,310.3 966.6,319.6 920.6,330.4 672.6,384.0 502.6,420.1 462.6,427.7 432.6,432.3 408.6,434.8 386.6,435.4 376.6,434.9 366.6,433.9 358.6,432.5 350.6,430.6 342.6,428.0 336.6,425.5 330.6,422.3 324.6,418.2 319.0,413.0 315.7,409.0 312.6,404.0 310.5,399.0 309.1,393.0 308.9,387.0 309.6,381.0 311.4,375.0 314.2,369.0 316.7,365.0 321.4,359.0 326.6,353.7 332.1,349.0 338.6,344.3 346.6,339.4 354.6,335.2 372.6,327.5 394.6,320.1 426.6,311.4 471.9,301.0 880.7,213.0 928.5,203.0 956.6,197.5 980.6,193.5ZM948.8,475.0 966.6,473.7 982.6,473.6 996.6,474.8 1007.8,477.0 1014.1,479.0 1018.6,481.0 1024.9,485.0 1027.1,487.0 1030.2,491.0 1031.2,493.0 1032.3,497.0 1032.1,503.0 1030.8,507.0 1028.7,511.0 1025.7,515.0 1022.6,518.4 1014.7,525.0 1002.6,532.5 989.3,539.0 974.1,545.0 956.0,551.0 935.0,557.0 903.1,565.0 822.5,583.0 653.6,619.0 612.6,626.9 584.6,631.4 564.6,633.7 546.6,634.8 530.6,634.6 516.8,633.0 510.6,631.6 504.6,629.8 496.6,625.9 492.7,623.0 490.7,621.0 488.6,618.0 487.2,615.0 486.4,611.0 486.5,607.0 487.6,603.0 489.4,599.0 492.1,595.0 495.5,591.0 499.8,587.0 504.9,583.0 516.6,575.6 530.1,569.0 545.1,563.0 566.6,555.9 599.0,547.0 641.2,537.0 826.3,497.0 864.8,489.0 900.6,482.1 926.6,477.8Z"/>
<path d="M1003.8,199.0 1022.6,198.4 1038.6,199.4 1046.6,200.7 1052.6,202.1 1058.6,204.0 1064.6,206.6 1068.9,209.0 1074.3,213.0 1078.2,217.0 1081.0,221.0 1083.0,225.0 1084.2,229.0 1084.7,233.0 1084.5,239.0 1082.3,247.0 1080.5,251.0 1076.7,257.0 1073.5,261.0 1068.6,266.0 1062.9,271.0 1057.4,275.0 1044.2,283.0 1028.6,290.4 1011.3,297.0 990.6,303.5 958.6,312.0 910.8,323.0 623.4,385.0 496.6,411.8 462.6,418.3 436.6,422.4 412.6,425.1 392.6,425.9 376.2,425.0 368.6,424.0 360.6,422.3 352.6,419.9 346.6,417.5 341.7,415.0 336.6,411.6 332.6,408.2 328.6,403.6 325.8,399.0 324.2,395.0 323.3,391.0 323.0,385.0 324.0,379.0 325.3,375.0 328.4,369.0 331.2,365.0 336.5,359.0 340.9,355.0 352.0,347.0 359.0,343.0 367.1,339.0 384.6,331.9 406.0,325.0 436.4,317.0 480.2,307.0 898.7,217.0 937.7,209.0 962.6,204.4 984.6,201.0ZM923.7,505.0 932.6,504.7 940.6,504.8 946.6,505.5 952.7,507.0 956.3,509.0 957.9,511.0 958.2,513.0 957.7,515.0 954.6,519.0 952.2,521.0 945.7,525.0 932.5,531.0 915.0,537.0 886.0,545.0 834.6,557.0 714.1,583.0 655.6,595.0 622.6,600.8 606.6,603.0 596.6,603.9 586.6,604.4 578.6,604.3 570.6,603.4 566.6,602.3 562.6,600.2 561.3,599.0 560.5,597.0 560.6,595.0 561.6,593.0 565.4,589.0 571.3,585.0 579.2,581.0 588.9,577.0 600.5,573.0 628.6,565.0 653.2,559.0 697.6,549.0 837.9,519.0 868.2,513.0 891.0,509.0 906.6,506.7Z"/>
<path d="M992.3,209.0 1010.6,208.0 1024.6,208.4 1032.6,209.3 1038.6,210.4 1048.6,213.5 1054.6,216.5 1058.4,219.0 1060.7,221.0 1064.2,225.0 1066.4,229.0 1067.6,233.0 1068.0,237.0 1067.7,241.0 1066.7,245.0 1065.0,249.0 1062.6,253.0 1059.6,257.0 1055.9,261.0 1051.4,265.0 1042.6,271.4 1028.9,279.0 1015.1,285.0 998.3,291.0 978.6,296.9 946.7,305.0 902.7,315.0 596.4,381.0 491.9,403.0 464.6,408.2 442.6,411.9 420.6,414.6 402.6,415.6 386.6,415.2 372.6,413.2 366.6,411.7 360.6,409.7 354.9,407.0 351.6,405.0 348.6,402.8 344.8,399.0 342.0,395.0 340.3,391.0 339.5,387.0 339.4,383.0 340.6,377.2 342.4,373.0 344.8,369.0 348.0,365.0 351.9,361.0 356.6,357.0 362.3,353.0 368.6,349.3 381.5,343.0 397.1,337.0 418.6,330.3 447.2,323.0 491.4,313.0 891.4,227.0 951.0,215.0 974.6,211.1Z"/>
<path d="M976.8,221.0 992.6,219.6 1006.6,219.3 1018.6,220.3 1028.6,222.4 1036.6,225.7 1040.6,228.5 1043.1,231.0 1044.6,233.1 1046.2,237.0 1046.5,239.0 1046.4,243.0 1044.2,249.0 1040.0,255.0 1033.6,261.0 1024.6,267.2 1013.5,273.0 999.0,279.0 984.6,283.9 966.6,289.1 934.8,297.0 899.3,305.0 630.3,363.0 508.1,389.0 478.1,395.0 452.6,399.5 432.6,402.3 416.6,403.6 400.6,403.7 388.6,402.6 378.6,400.2 370.6,396.7 366.6,393.9 363.8,391.0 362.4,389.0 360.8,385.0 360.5,383.0 360.6,379.0 361.9,375.0 364.0,371.0 369.2,365.0 373.9,361.0 378.6,357.8 390.6,351.3 402.6,346.2 417.8,341.0 438.6,335.1 463.6,329.0 508.3,319.0 880.4,239.0 939.2,227.0 960.6,223.3Z"/>
<path d="M958.8,237.0 972.6,235.6 984.6,235.1 994.6,235.7 1001.7,237.0 1006.8,239.0 1009.6,241.0 1011.2,243.0 1011.9,245.0 1012.0,247.0 1010.6,251.0 1007.3,255.0 1002.4,259.0 995.8,263.0 987.5,267.0 977.3,271.0 965.1,275.0 935.6,283.0 864.7,299.0 576.5,361.0 510.2,375.0 468.6,383.0 454.6,385.2 438.6,387.1 424.6,387.8 414.6,387.4 406.6,386.1 400.6,384.0 398.7,383.0 396.4,381.0 395.0,379.0 394.4,377.0 394.5,375.0 395.0,373.0 397.6,369.0 399.6,367.0 404.6,363.1 411.8,359.0 420.8,355.0 431.8,351.0 444.9,347.0 467.9,341.0 539.4,325.0 874.4,253.0 923.1,243.0 945.3,239.0Z"/>
</g>
<g font-family="'Liberation Serif',serif" font-weight="bold" font-size="30" fill="#747474"><g transform="translate(366.5,220.5) rotate(-13)"><rect x="-30.0" y="-13.5" width="60.0" height="27.0" fill="#fff"/><text y="10.1" text-anchor="middle">-20</text></g><g transform="translate(841.2,118.9) rotate(-12)"><rect x="-30.0" y="-13.5" width="60.0" height="27.0" fill="#fff"/><text y="10.1" text-anchor="middle">-20</text></g><g transform="translate(564.4,243.1) rotate(-12)"><rect x="-37.5" y="-13.5" width="75.0" height="27.0" fill="#fff"/><text y="10.1" text-anchor="middle">-120</text></g><g transform="translate(780.4,232.8) rotate(-12)"><rect x="-37.5" y="-13.5" width="75.0" height="27.0" fill="#fff"/><text y="10.1" text-anchor="middle">-220</text></g><g transform="translate(1060.8,154.9) rotate(12)"><rect x="-37.5" y="-13.5" width="75.0" height="27.0" fill="#fff"/><text y="10.1" text-anchor="middle">-120</text></g><g transform="translate(991.0,309.3) rotate(-13)"><rect x="-37.5" y="-13.5" width="75.0" height="27.0" fill="#fff"/><text y="10.1" text-anchor="middle">-220</text></g><g transform="translate(1232.5,322.5) rotate(-90)"><rect x="-30.0" y="-13.5" width="60.0" height="27.0" fill="#fff"/><text y="10.1" text-anchor="middle">-20</text></g><g transform="translate(494.6,420.8) rotate(-10)"><rect x="-37.5" y="-13.5" width="75.0" height="27.0" fill="#fff"/><text y="10.1" text-anchor="middle">-220</text></g><g transform="translate(312.5,466.0) rotate(38)"><rect x="-37.5" y="-13.5" width="75.0" height="27.0" fill="#fff"/><text y="10.1" text-anchor="middle">-120</text></g><g transform="translate(978.3,478.8) rotate(-3)"><rect x="-37.5" y="-13.5" width="75.0" height="27.0" fill="#fff"/><text y="10.1" text-anchor="middle">-220</text></g><g transform="translate(646.3,618.2) rotate(-12)"><rect x="-37.5" y="-13.5" width="75.0" height="27.0" fill="#fff"/><text y="10.1" text-anchor="middle">-220</text></g><g transform="translate(595.7,693.9) rotate(-10)"><rect x="-37.5" y="-13.5" width="75.0" height="27.0" fill="#fff"/><text y="10.1" text-anchor="middle">-120</text></g><g transform="translate(1089.0,573.3) rotate(-25)"><rect x="-37.5" y="-13.5" width="75.0" height="27.0" fill="#fff"/><text y="10.1" text-anchor="middle">-120</text></g><g transform="translate(1133.3,659.0) rotate(-25)"><rect x="-30.0" y="-13.5" width="60.0" height="27.0" fill="#fff"/><text y="10.1" text-anchor="middle">-20</text></g><g transform="translate(661.5,771.1) rotate(-12)"><rect x="-30.0" y="-13.5" width="60.0" height="27.0" fill="#fff"/><text y="10.1" text-anchor="middle">-20</text></g></g>
<g transform="translate(0,0)">
<path d="M482.5,235.9 987.5,123.4 1071.2,283.6 852.5,333.4 914.7,442.4 1023.7,563.7 788.1,635.8 619.3,723.7 456.5,623.0 381.8,581.3 356.5,466.1 540.0,418.0 533.7,405.3 566.6,397.7 552.3,374.5Z" fill="none" stroke="#2fdcf0" stroke-width="2.0" stroke-linejoin="miter"/>
<path d="M345.0,662.0 388.0,639.5 399.5,652.0 456.5,623.0 507.0,713.0 471.6,758.5 478.7,795.0 427.3,824.3 406.3,805.3Z" fill="none" stroke="#2fdcf0" stroke-width="2.0" stroke-linejoin="miter"/>
<g fill="none" stroke="#3141f0" stroke-linejoin="miter">
<path d="M217.8,454.9L1172.3,198.8L1187.8,257.4L260.3,503.7" stroke-width="2.9"/>
<path d="M1168.8,201.5L1183.5,256.5L297,494.6" stroke-width="1.1"/>
<path d="M264,509L1190,265L1205.6,323L278.1,568.6" stroke-width="2.8"/>
<path d="M1186.3,267.6L1201.3,322L315,559.6" stroke-width="1.1"/>
<path d="M283.5,574.8L1207.7,329.5L1223.3,388L315.3,629" stroke-width="2.8"/>
<path d="M1204,332.2L1219,387L332,626.3" stroke-width="1.1"/>
<path d="M217.8,454.9L229,452M260.3,503.7L297.5,494.4M278.1,568.6L315.3,559.4M315.3,629L332.3,625.4" stroke-width="5"/>
</g>
<g fill="none" stroke="#3141f0" stroke-width="2.5" stroke-linejoin="round" stroke-linecap="round">
<path d="M173.5,332.5L346.6,625.0M208.1,398.0L342.9,625.0M198.1,392.0L337.1,625.0M201.3,405.0L318.1,600.0M189.9,398.0L326.7,625.0M188.2,402.0L323.0,625.0M183.4,404.0L321.8,632.0M158.6,372.0L317.1,632.0M346.6,625.0L428.5,741.0M342.9,625.0L425.0,743.5M326.7,625.0L400.8,728.0M323.0,625.0L397.2,730.0M173.5,332.5L171.2,334.8L170.2,340L170.8,358.4L156.8,368.2L152.9,370.2L157.8,373.4L173.6,396.8M172.6,342.6L174.5,357.4L188.3,388.9L196.2,401.7M170.8,358.4L176,372L186,392L193,404M173.6,396.8L181.4,399.9L194.2,399L208,395.8L219.8,389.9L247.4,376.1L285,354.6L304.5,349L303.8,343L308,339.5M176,395L182,397.6L194,396.6L207.5,393.4L219,387.6L246.5,374L284.5,352.6M304.5,349L285,352.3L215.9,354.5L206,359.4L201.8,363.5L202.1,371.2L208,383L212.9,384.2L214.5,392M209,360.4L213.9,370.2L218.3,368.7L221.3,375.1L210,381M233.6,386L248.4,378.1L265.6,410.6L263.1,413.5L247.4,421.4L245.4,418.5M237.5,387.9L244.4,388.9L256.3,407.6L254.3,410.6L244.4,414.5M227.7,403.7L232.6,399.7L239.5,408.6L231.6,414.5L232.6,425L224,438M213.9,397.8L220.8,406.6L219.8,414.5L208,421.4M222,412L245,421.5L236,440L226,445M215,420L230,444M203,402L226,440M199,408L221,446M226,462L246,472M232,478L256,516M244,476L258,502M276,522L283,540L274,547L266,534"/><path d="M306,338.5h5v4h-5zM151,368h4v4h-4z" stroke-width="1.6"/><path d="M318,632L326,648L338,660L352,664" stroke-dasharray="5,3"/><path d="M337.7,626L371.6,671.5" stroke-dasharray="5,2.5"/><path d="M333,604L339,601L345,612L341,616" stroke-width="1.6"/><path d="M340,640L349,647L352,640L346,628" stroke-width="1.6"/>
</g>
<g fill="#3141f0"><circle cx="371.6" cy="671.5" r="7.6"/><circle cx="400.8" cy="730.8" r="7.6"/><circle cx="429.9" cy="744" r="7.6"/></g>
<g font-family="'Liberation Serif',serif" fill="#262626">
<text transform="translate(417.2,423.4) rotate(-12.9)" font-size="17.5" textLength="202.5" lengthAdjust="spacing">51006 Coal Mining Face</text>
<text transform="translate(436,497.5) rotate(-12.75)" font-size="17.5" textLength="202.5" lengthAdjust="spacing">51006 Coal Mining Face</text>
<text transform="translate(459,560.6) rotate(-12.9)" font-size="17.5" textLength="202.5" lengthAdjust="spacing">51006 Coal Mining Face</text>
<text x="138.2" y="436.6" font-size="18.5">Mine</text><text x="131.5" y="457.7" font-size="18.5">Tunnel</text>
<text x="526.1" y="782" font-size="20" textLength="209" lengthAdjust="spacing">Mine Industrial Square</text>
<text x="791.4" y="695" font-size="20" textLength="354.4" lengthAdjust="spacing">Protection Scope of Ground Structures</text>
</g>
<g stroke="#262626" stroke-width="1.2" fill="none"><path d="M131.5,465.7H191.8L222,482.6"/><path d="M525,778L489.5,745.5"/><path d="M790.5,688.4L755.5,657"/></g>
<g fill="#262626"><path d="M227,485.4L211.6,482.2L214.6,476.2Z"/><path d="M485.8,742.2L497.6,748.4L492.6,753.6Z"/><path d="M752.2,654L764,660.3L759,665.5Z"/></g>
</g>
<clipPath id="c2"><rect x="129.4" y="1077" width="1267.4" height="846.6"/></clipPath>
<g clip-path="url(#c2)" fill="none" stroke="#333" stroke-width="1.05" stroke-linejoin="round">
<path d="M999.0,1291.7 987.8,1293.2 970.1,1296.2 925.5,1305.2 493.5,1398.5 446.3,1409.0 428.1,1413.5 411.9,1418.0 398.3,1422.5 390.8,1425.5 381.9,1430.0 377.8,1433.1 375.3,1436.1 374.7,1437.6 374.9,1439.1 376.2,1440.7 378.5,1442.1 380.6,1442.7 386.6,1443.7 394.1,1443.9 403.1,1443.4 414.7,1442.1 441.3,1437.6 470.5,1431.5 639.7,1394.7 936.6,1330.8 970.1,1323.3 993.5,1317.3 1012.4,1311.3 1020.0,1308.3 1026.1,1305.2 1030.9,1302.2 1034.1,1299.2 1035.0,1297.7 1035.4,1296.2 1035.0,1294.7 1033.5,1293.2 1029.0,1291.4 1023.0,1290.6 1017.0,1290.4 1009.5,1290.7Z"/>
<path d="M1030.5,1278.2 1015.5,1279.7 995.5,1282.7 971.0,1287.2 941.6,1293.2 481.6,1392.5 447.6,1400.0 422.0,1406.0 399.2,1412.0 384.3,1416.5 371.7,1421.0 361.1,1425.5 352.7,1430.0 348.2,1433.1 344.6,1436.1 341.9,1439.1 340.1,1442.1 339.5,1445.1 339.7,1446.6 340.2,1448.1 341.7,1450.1 343.2,1451.3 346.2,1453.0 349.2,1454.2 353.7,1455.2 362.7,1456.3 373.2,1456.4 385.2,1455.6 398.6,1454.0 416.7,1451.1 461.4,1442.1 630.7,1405.2 955.4,1335.3 994.8,1326.3 1022.3,1318.8 1031.6,1315.8 1043.6,1311.3 1050.3,1308.3 1058.7,1303.7 1065.0,1299.2 1069.3,1294.7 1071.0,1291.7 1071.4,1290.2 1071.4,1287.2 1070.8,1285.7 1069.7,1284.2 1068.0,1282.7 1064.9,1281.0 1058.9,1279.1 1051.4,1278.0 1042.5,1277.7Z"/>
<path d="M1045.4,1269.1 1029.0,1270.7 1008.6,1273.7 983.7,1278.2 953.9,1284.2 479.8,1386.4 439.0,1395.5 407.3,1403.0 384.8,1409.0 365.7,1415.0 353.5,1419.5 340.2,1425.6 330.1,1431.5 326.1,1434.6 321.3,1439.1 319.0,1442.1 317.5,1445.1 316.6,1448.1 316.7,1451.1 317.7,1454.1 318.7,1455.6 320.8,1457.7 324.3,1460.1 327.5,1461.6 332.2,1463.1 341.7,1464.8 353.7,1465.4 368.7,1464.8 384.4,1463.1 403.8,1460.1 427.6,1455.6 456.2,1449.6 632.2,1411.2 964.1,1339.8 1009.8,1329.3 1026.8,1324.8 1041.7,1320.3 1054.6,1315.8 1065.4,1311.3 1074.4,1306.7 1081.6,1302.2 1087.3,1297.7 1090.3,1294.7 1092.6,1291.7 1094.2,1288.7 1095.0,1285.7 1095.0,1282.7 1094.7,1281.2 1093.4,1278.5 1091.9,1276.7 1090.1,1275.2 1087.4,1273.5 1084.3,1272.2 1079.9,1270.8 1070.5,1269.2 1058.9,1268.6Z"/>
<path d="M1054.4,1261.5 1036.5,1263.5 1015.5,1266.7 993.0,1270.7 956.3,1278.2 468.4,1383.4 427.8,1392.5 395.6,1400.2 368.9,1407.5 350.4,1413.5 334.2,1419.9 325.5,1424.0 320.0,1427.0 314.8,1430.3 309.1,1434.6 305.7,1437.6 301.8,1442.1 299.2,1446.6 298.1,1449.6 297.7,1452.6 298.0,1455.6 299.0,1458.6 301.0,1461.6 304.2,1464.6 306.5,1466.1 310.3,1468.0 314.8,1469.7 320.8,1471.2 326.7,1472.2 340.2,1473.0 355.2,1472.6 373.2,1470.8 394.0,1467.6 415.1,1463.7 439.7,1458.6 629.2,1417.3 968.4,1344.3 1002.3,1336.8 1026.0,1331.0 1043.9,1326.1 1061.9,1320.3 1073.9,1315.7 1086.6,1309.8 1096.8,1303.7 1104.5,1297.7 1107.5,1294.7 1110.0,1291.7 1111.9,1288.7 1113.3,1285.7 1114.2,1282.7 1114.4,1279.7 1113.9,1276.7 1112.6,1273.7 1110.3,1270.7 1108.6,1269.2 1106.5,1267.7 1102.3,1265.5 1097.9,1263.9 1093.4,1262.7 1082.9,1261.2 1069.4,1260.8ZM984.1,1553.3 963.1,1555.8 940.9,1559.4 916.3,1563.9 879.0,1571.4 662.4,1618.0 615.2,1628.5 577.5,1637.5 554.9,1643.6 534.9,1649.6 518.0,1655.6 507.4,1660.1 501.4,1663.1 496.2,1666.1 490.2,1670.6 487.5,1673.6 486.6,1675.1 485.9,1678.1 486.2,1679.6 487.0,1681.2 488.6,1682.7 491.3,1684.2 494.4,1685.2 501.9,1686.6 510.9,1687.2 522.9,1687.0 537.9,1685.8 551.3,1684.1 570.8,1681.1 618.7,1672.1 690.2,1657.1 870.8,1618.0 910.8,1609.0 942.0,1601.5 975.0,1592.4 989.1,1587.9 1001.5,1583.4 1012.1,1578.9 1020.7,1574.4 1027.3,1569.9 1030.4,1566.9 1032.4,1563.9 1032.9,1562.4 1033.0,1560.9 1032.5,1559.4 1031.5,1557.9 1029.6,1556.4 1024.5,1554.3 1017.0,1552.9 1008.0,1552.3 997.5,1552.4Z"/>
<path d="M1069.4,1254.1 1049.9,1256.0 1026.0,1259.5 998.0,1264.6 961.0,1272.2 466.2,1378.9 418.8,1389.4 381.6,1398.5 356.7,1405.4 336.8,1412.0 326.7,1415.9 318.3,1419.5 311.8,1422.7 304.1,1427.0 299.4,1430.0 293.5,1434.6 288.7,1439.1 285.1,1443.6 282.5,1448.1 281.0,1452.6 280.7,1457.1 281.2,1460.1 282.3,1463.1 284.2,1466.1 287.1,1469.1 291.3,1472.1 295.3,1474.2 299.8,1476.0 305.8,1477.6 311.8,1478.8 325.2,1480.0 341.7,1479.8 360.2,1478.2 382.1,1475.0 405.9,1470.6 434.8,1464.6 623.2,1423.4 853.8,1373.7 984.3,1345.8 1011.3,1339.8 1036.0,1333.8 1055.9,1328.3 1071.6,1323.3 1087.4,1317.3 1100.2,1311.3 1110.5,1305.2 1114.8,1302.2 1120.2,1297.7 1125.8,1291.7 1127.9,1288.7 1130.3,1284.2 1131.5,1279.7 1131.8,1276.7 1131.5,1273.7 1130.6,1270.7 1129.0,1267.7 1126.5,1264.6 1122.8,1261.6 1118.8,1259.4 1114.3,1257.6 1109.8,1256.3 1103.8,1255.0 1097.9,1254.2 1084.4,1253.6ZM1014.0,1536.7 988.5,1539.7 961.6,1544.0 927.4,1550.3 890.4,1557.9 784.9,1580.4 625.5,1615.0 572.9,1627.0 537.2,1636.0 511.1,1643.6 492.9,1649.6 473.7,1657.1 458.3,1664.6 450.9,1669.1 446.7,1672.1 443.1,1675.1 440.2,1678.1 437.0,1682.7 435.7,1685.7 435.2,1688.7 435.6,1691.7 437.1,1694.7 438.4,1696.2 442.0,1698.9 445.6,1700.7 449.8,1702.2 455.5,1703.6 467.5,1705.1 482.5,1705.4 498.9,1704.6 519.9,1702.4 541.6,1699.2 567.4,1694.7 598.3,1688.7 712.0,1664.6 905.9,1622.5 951.4,1612.0 981.2,1604.5 1002.6,1598.5 1021.5,1592.4 1038.0,1586.4 1051.8,1580.4 1063.3,1574.4 1072.3,1568.4 1075.9,1565.4 1078.9,1562.4 1081.2,1559.4 1082.9,1556.4 1083.8,1553.3 1083.9,1550.3 1082.9,1547.3 1082.0,1545.8 1079.9,1543.7 1076.3,1541.3 1073.0,1539.8 1068.3,1538.3 1058.9,1536.5 1045.4,1535.5 1030.5,1535.6Z"/>
<path d="M1094.9,1246.6 1084.4,1246.9 1073.9,1247.7 1049.9,1250.6 1020.0,1255.6 981.6,1263.1 458.4,1375.9 404.6,1387.9 371.7,1396.0 344.7,1403.6 322.3,1411.1 312.3,1415.0 302.8,1419.3 296.4,1422.5 288.6,1427.0 282.0,1431.5 276.6,1436.1 272.2,1440.6 268.8,1445.1 266.3,1449.6 264.7,1454.1 264.2,1458.6 264.7,1463.1 266.3,1467.6 268.2,1470.6 270.8,1473.7 274.5,1476.7 279.6,1479.7 284.8,1481.9 290.8,1483.7 296.8,1485.0 304.3,1486.1 311.8,1486.7 328.2,1486.7 347.7,1485.2 370.2,1482.1 395.6,1477.5 428.5,1470.6 623.2,1427.9 861.3,1376.6 998.8,1347.3 1025.5,1341.3 1049.9,1335.3 1069.4,1329.8 1085.9,1324.4 1100.5,1318.8 1114.3,1312.2 1126.0,1305.2 1133.9,1299.2 1137.1,1296.2 1141.2,1291.7 1143.4,1288.7 1145.9,1284.2 1147.7,1279.7 1148.3,1276.7 1148.6,1272.2 1148.1,1269.2 1146.6,1264.6 1144.7,1261.6 1142.1,1258.6 1139.8,1256.6 1135.9,1254.1 1132.3,1252.3 1127.8,1250.6 1121.8,1249.0 1109.8,1247.2ZM1051.4,1523.2 1026.0,1525.3 996.0,1529.3 960.8,1535.3 914.8,1544.3 822.6,1563.9 614.4,1609.0 555.4,1622.5 514.1,1633.0 483.6,1642.1 462.0,1649.6 443.7,1657.1 434.2,1661.6 426.0,1666.1 418.8,1670.6 412.7,1675.1 407.8,1679.6 403.9,1684.2 401.1,1688.7 399.5,1693.2 399.1,1697.7 399.7,1700.7 401.1,1703.7 403.3,1706.7 406.7,1709.7 410.6,1712.1 415.4,1714.2 421.1,1716.1 427.1,1717.4 434.5,1718.6 442.0,1719.2 451.0,1719.6 469.0,1719.1 489.9,1717.3 513.9,1714.2 540.8,1709.7 572.7,1703.7 616.8,1694.7 673.3,1682.7 916.1,1630.0 968.3,1618.0 1003.8,1609.0 1029.0,1601.8 1048.3,1595.4 1064.9,1589.2 1081.5,1581.9 1092.8,1575.9 1104.1,1568.4 1109.5,1563.9 1112.5,1560.9 1116.2,1556.4 1118.0,1553.3 1119.8,1548.8 1120.3,1545.8 1120.1,1542.8 1119.3,1539.8 1117.6,1536.8 1114.8,1533.8 1111.3,1531.3 1107.5,1529.3 1103.7,1527.8 1097.9,1526.1 1091.6,1524.8 1084.4,1523.8 1069.4,1522.9Z"/>
<path d="M1088.9,1240.5 1066.4,1243.0 1041.0,1247.0 1010.8,1252.6 967.6,1261.5 444.5,1374.4 391.0,1386.4 353.7,1395.8 325.2,1404.1 303.0,1412.0 286.1,1419.5 277.7,1424.0 270.5,1428.5 264.5,1433.1 259.4,1437.6 255.3,1442.1 251.2,1448.1 248.6,1454.1 247.5,1458.6 247.4,1463.1 248.1,1467.6 249.9,1472.1 251.9,1475.4 255.7,1479.7 259.4,1482.7 264.5,1485.7 269.8,1488.1 276.4,1490.2 283.0,1491.7 290.8,1492.9 298.3,1493.5 307.3,1493.8 316.3,1493.6 337.2,1491.9 359.7,1488.8 383.6,1484.5 412.1,1478.7 525.9,1453.4 623.2,1432.3 873.3,1378.3 1005.5,1350.4 1039.1,1342.8 1066.4,1336.0 1088.9,1329.4 1106.3,1323.3 1121.8,1316.7 1134.9,1309.8 1139.8,1306.7 1145.9,1302.2 1151.2,1297.7 1155.6,1293.2 1158.0,1290.2 1161.1,1285.7 1163.3,1281.2 1164.9,1276.7 1165.6,1272.2 1165.6,1267.7 1164.8,1263.1 1162.9,1258.6 1159.7,1254.1 1156.6,1251.1 1152.4,1248.1 1148.8,1246.2 1144.3,1244.3 1138.3,1242.5 1132.3,1241.2 1124.8,1240.2 1117.3,1239.7 1108.3,1239.5ZM1066.4,1512.7 1051.4,1513.9 1036.5,1515.5 1003.5,1520.2 961.6,1527.7 916.0,1536.8 803.2,1560.9 595.3,1606.0 536.8,1619.5 512.8,1625.5 490.6,1631.5 460.7,1640.6 435.2,1649.6 424.1,1654.1 414.1,1658.6 405.0,1663.1 394.6,1669.1 387.9,1673.6 382.2,1678.1 377.4,1682.7 372.4,1688.7 369.1,1694.7 367.7,1699.2 367.3,1703.7 368.0,1708.2 369.9,1712.7 372.0,1715.7 376.2,1719.8 380.6,1722.8 386.6,1725.8 392.3,1727.8 398.6,1729.4 406.1,1730.8 413.6,1731.7 422.6,1732.3 433.1,1732.4 443.5,1732.1 466.0,1730.4 492.9,1727.0 525.1,1721.7 564.6,1714.2 615.5,1703.7 692.7,1687.2 873.7,1648.1 941.9,1633.0 993.2,1621.0 1032.0,1610.9 1058.3,1603.0 1079.9,1595.4 1098.4,1587.9 1113.8,1580.4 1126.4,1572.9 1132.7,1568.4 1138.1,1563.9 1142.7,1559.4 1146.4,1554.8 1149.2,1550.3 1151.2,1545.8 1152.2,1541.3 1152.2,1536.8 1150.9,1532.3 1149.3,1529.3 1146.9,1526.3 1143.5,1523.3 1138.6,1520.3 1133.8,1518.1 1127.8,1516.1 1121.8,1514.7 1114.3,1513.4 1106.8,1512.6 1088.9,1511.9Z"/>
<path d="M1103.8,1233.0 1079.9,1235.7 1052.9,1240.0 1020.0,1246.2 976.6,1255.1 431.6,1372.8 376.2,1385.3 336.0,1395.5 308.8,1403.5 297.2,1407.5 285.4,1412.0 275.0,1416.5 265.9,1421.0 258.1,1425.5 251.4,1430.0 245.7,1434.6 239.6,1440.6 235.9,1445.1 232.4,1451.1 230.1,1457.1 229.2,1461.6 229.2,1467.6 230.1,1472.1 231.8,1476.7 234.6,1481.2 238.4,1485.4 242.3,1488.7 247.4,1491.9 253.4,1494.7 259.4,1496.7 266.9,1498.6 274.3,1499.8 283.3,1500.7 292.3,1501.0 301.3,1500.9 322.3,1499.4 346.2,1496.1 370.2,1491.9 398.6,1486.0 516.9,1459.6 614.2,1438.4 879.2,1381.2 1025.9,1350.4 1057.4,1343.2 1082.5,1336.8 1105.3,1330.0 1124.2,1323.3 1141.2,1315.8 1154.5,1308.3 1164.8,1300.7 1169.8,1296.2 1173.9,1291.7 1177.3,1287.2 1180.0,1282.7 1182.1,1278.2 1183.8,1272.2 1184.4,1266.2 1184.0,1261.6 1182.9,1257.1 1180.9,1252.6 1177.8,1248.1 1174.9,1245.1 1171.1,1242.1 1165.9,1239.1 1160.7,1236.9 1154.7,1235.0 1148.8,1233.8 1141.3,1232.7 1133.8,1232.1 1124.8,1232.0 1114.3,1232.3ZM1088.9,1502.1 1073.9,1503.4 1057.4,1505.2 1021.5,1510.2 981.1,1517.3 927.9,1527.8 814.9,1551.8 586.1,1601.5 521.1,1616.5 491.5,1624.0 469.5,1630.0 435.2,1640.6 422.1,1645.1 406.1,1651.1 391.9,1657.1 382.3,1661.6 373.7,1666.1 363.7,1672.1 357.2,1676.6 350.0,1682.7 345.6,1687.2 341.1,1693.2 337.9,1699.2 336.1,1705.2 335.8,1711.2 336.5,1715.7 338.2,1720.2 340.9,1724.8 345.0,1729.3 349.2,1732.6 355.2,1736.1 361.2,1738.7 368.7,1741.1 376.3,1742.8 385.1,1744.1 394.1,1744.9 404.6,1745.2 415.1,1745.1 427.1,1744.6 440.5,1743.5 469.0,1740.0 503.4,1734.5 545.3,1726.5 597.8,1715.7 682.1,1697.7 884.0,1654.1 955.6,1638.3 1012.5,1625.0 1055.9,1613.5 1082.9,1605.3 1106.7,1596.9 1117.9,1592.4 1128.1,1587.9 1144.3,1579.6 1152.9,1574.4 1159.4,1569.9 1165.1,1565.4 1170.0,1560.9 1174.1,1556.4 1177.6,1551.8 1181.0,1545.8 1182.8,1541.3 1184.0,1535.3 1183.9,1530.8 1182.9,1526.3 1180.8,1521.8 1177.3,1517.3 1174.0,1514.2 1169.4,1511.2 1163.2,1508.2 1156.2,1505.9 1148.8,1504.1 1141.3,1502.8 1132.3,1501.9 1123.3,1501.4 1112.8,1501.2Z"/>
<path d="M1129.3,1224.0 1105.3,1226.4 1075.4,1231.0 1041.0,1237.3 993.0,1247.1 419.6,1370.9 359.7,1384.4 316.2,1395.5 300.5,1400.0 286.1,1404.5 273.3,1409.0 262.4,1413.3 251.9,1418.0 243.2,1422.5 235.7,1427.0 229.3,1431.5 223.9,1436.1 218.1,1442.1 214.6,1446.6 211.1,1452.6 208.7,1458.6 207.5,1464.6 207.4,1470.6 208.5,1476.7 210.1,1481.2 212.9,1486.3 216.0,1490.2 220.8,1494.7 226.4,1498.6 232.4,1501.7 238.4,1504.0 245.9,1506.1 253.4,1507.6 262.4,1508.7 271.3,1509.1 280.3,1509.2 290.8,1508.7 302.8,1507.8 328.2,1504.4 352.2,1500.2 380.6,1494.4 509.4,1465.4 612.7,1442.8 889.7,1383.1 1043.9,1350.9 1076.9,1343.4 1102.6,1336.8 1124.8,1330.2 1144.1,1323.3 1161.0,1315.8 1174.4,1308.3 1180.9,1303.7 1186.5,1299.2 1191.3,1294.7 1195.3,1290.2 1198.6,1285.7 1201.3,1281.2 1203.4,1276.7 1205.3,1270.7 1206.3,1264.6 1206.4,1260.1 1205.6,1254.1 1204.3,1249.6 1202.2,1245.1 1199.1,1240.6 1195.2,1236.6 1190.5,1233.1 1185.0,1230.1 1178.7,1227.6 1172.7,1226.0 1165.2,1224.6 1157.7,1223.8 1148.8,1223.4 1139.8,1223.5ZM1129.3,1490.2 1111.3,1491.4 1093.4,1493.2 1052.9,1498.5 1003.5,1506.7 949.3,1517.3 835.6,1541.3 572.1,1598.5 532.5,1607.5 501.1,1615.0 472.0,1622.4 449.7,1628.5 429.1,1634.5 410.0,1640.6 392.3,1646.6 376.1,1652.6 361.4,1658.6 348.5,1664.6 339.9,1669.1 329.9,1675.1 321.5,1681.2 314.8,1687.2 309.4,1693.2 305.4,1699.2 302.6,1705.2 301.7,1708.2 300.8,1712.7 300.6,1718.7 301.7,1724.8 304.0,1730.8 306.7,1735.3 310.4,1739.8 315.5,1744.3 322.3,1748.6 328.2,1751.5 335.7,1754.1 343.2,1756.1 352.2,1757.6 361.2,1758.6 371.7,1759.1 383.6,1759.2 395.6,1758.7 409.1,1757.7 439.0,1754.1 473.5,1748.7 515.4,1740.9 567.8,1730.3 645.7,1713.7 889.7,1661.0 970.6,1643.2 1033.6,1628.5 1058.9,1622.1 1081.4,1616.0 1109.7,1607.5 1135.5,1598.5 1157.2,1589.4 1166.5,1584.9 1174.9,1580.4 1182.4,1575.9 1189.2,1571.4 1195.1,1566.9 1201.9,1560.9 1206.2,1556.4 1211.0,1550.3 1213.9,1545.8 1216.8,1539.8 1218.6,1533.8 1219.3,1527.8 1218.9,1521.8 1217.7,1517.3 1215.5,1512.7 1212.3,1508.2 1207.5,1503.7 1202.7,1500.4 1196.7,1497.4 1189.3,1494.7 1181.7,1492.8 1174.2,1491.5 1165.2,1490.5 1154.7,1489.9 1142.8,1489.8Z"/>
<path d="M1151.8,1213.4 1126.3,1216.6 1094.9,1221.9 1055.9,1229.4 1005.0,1240.0 392.6,1372.2 326.7,1387.2 302.8,1393.1 282.5,1398.5 266.9,1403.0 252.7,1407.5 241.4,1411.5 230.9,1415.7 222.4,1419.5 212.9,1424.4 205.5,1429.0 197.9,1434.6 192.8,1439.1 187.4,1445.1 183.2,1451.1 180.2,1457.1 178.2,1463.1 177.1,1469.1 177.1,1476.7 178.2,1482.7 180.3,1488.7 183.6,1494.7 187.1,1499.2 191.7,1503.7 196.5,1507.3 202.5,1510.8 208.5,1513.4 215.9,1515.9 223.4,1517.6 232.4,1518.9 241.4,1519.6 250.4,1519.7 260.9,1519.4 272.8,1518.6 286.3,1517.1 299.8,1515.2 325.2,1510.8 356.7,1504.4 484.2,1475.2 558.8,1458.6 893.3,1386.4 1070.9,1349.8 1103.8,1342.3 1131.2,1335.3 1156.2,1327.8 1176.6,1320.3 1192.9,1312.8 1200.9,1308.3 1207.2,1304.2 1213.8,1299.2 1218.8,1294.7 1223.1,1290.2 1226.7,1285.7 1229.7,1281.2 1232.9,1275.2 1235.2,1269.2 1236.6,1263.1 1237.3,1255.6 1236.9,1249.6 1235.7,1243.6 1233.5,1237.6 1230.0,1231.6 1226.6,1227.5 1222.9,1224.0 1217.6,1220.5 1211.6,1217.6 1205.7,1215.5 1198.2,1213.8 1190.7,1212.7 1181.7,1212.2 1172.7,1212.1 1162.2,1212.6ZM1183.2,1475.1 1165.2,1476.3 1144.3,1478.3 1120.3,1481.3 1090.4,1485.6 1061.7,1490.2 1030.5,1495.6 964.6,1508.2 850.6,1532.3 559.3,1595.4 519.7,1604.5 482.0,1613.5 446.6,1622.5 413.6,1631.5 387.7,1639.1 363.3,1646.6 345.0,1652.6 328.2,1658.6 313.0,1664.6 302.9,1669.1 292.3,1674.5 283.7,1679.6 275.4,1685.7 268.7,1691.7 263.4,1697.7 258.6,1705.2 255.5,1712.7 253.9,1720.2 253.6,1724.8 253.8,1729.3 255.2,1736.8 257.4,1742.8 260.7,1748.8 265.2,1754.8 269.8,1759.3 275.8,1763.9 281.8,1767.3 289.3,1770.5 297.0,1772.9 305.8,1774.7 314.8,1775.9 325.2,1776.6 337.2,1776.8 349.2,1776.4 362.7,1775.4 377.7,1773.9 394.1,1771.8 431.6,1765.9 478.0,1757.2 536.4,1745.3 621.7,1727.1 907.7,1665.4 997.5,1645.7 1069.4,1629.0 1099.3,1621.5 1124.8,1614.6 1153.7,1606.0 1179.6,1596.9 1191.0,1592.4 1201.3,1587.9 1210.6,1583.4 1219.0,1578.9 1228.1,1573.3 1235.2,1568.4 1240.9,1563.9 1247.4,1557.9 1251.6,1553.3 1256.3,1547.3 1260.1,1541.3 1262.9,1535.3 1264.9,1529.3 1266.2,1521.8 1266.3,1515.8 1265.4,1509.7 1263.4,1503.7 1260.2,1497.7 1256.6,1493.2 1251.7,1488.7 1246.1,1484.9 1240.1,1482.0 1232.6,1479.3 1225.1,1477.4 1216.1,1476.0 1206.8,1475.2 1195.2,1474.8Z"/>
<path d="M1083.1,1106.8 1103.8,1106.1 1114.3,1106.4 1123.3,1107.1 1132.3,1108.2 1139.8,1109.6 1147.3,1111.5 1153.3,1113.5 1159.2,1116.0 1165.2,1119.2 1169.7,1122.3 1174.2,1126.3 1177.2,1130.2 1179.2,1133.8 1180.7,1138.3 1181.2,1142.9 1180.7,1147.4 1179.4,1151.9 1178.1,1154.9 1175.3,1159.4 1171.6,1163.9 1167.0,1168.4 1161.4,1172.9 1157.0,1175.9 1149.5,1180.4 1143.7,1183.5 1126.8,1191.0 1110.4,1197.0 1086.2,1204.5 1064.2,1210.5 1033.8,1218.0 994.6,1227.1 946.8,1237.6 445.4,1345.8 380.5,1359.4 340.2,1367.0 312.5,1371.4 289.3,1374.1 269.8,1375.0 254.9,1374.4 248.9,1373.6 242.9,1372.3 236.9,1370.4 232.4,1368.3 228.0,1365.4 224.8,1362.4 222.6,1359.4 220.5,1354.9 219.8,1351.9 219.5,1348.8 220.0,1342.8 221.8,1336.8 224.6,1330.8 228.4,1324.8 234.5,1317.3 241.4,1310.5 249.7,1303.7 257.9,1298.0 266.9,1292.5 277.3,1286.8 287.8,1281.9 299.8,1276.8 313.3,1271.8 326.7,1267.3 341.7,1262.8 359.7,1257.9 379.1,1253.1 437.5,1239.8 960.1,1127.0 1002.0,1118.5 1032.0,1113.1 1058.9,1109.1ZM1128.6,1357.9 1150.3,1357.0 1159.2,1357.2 1166.7,1357.7 1174.2,1358.7 1180.2,1360.0 1186.2,1361.8 1191.3,1363.9 1196.5,1366.9 1200.3,1369.9 1203.1,1372.9 1205.9,1377.4 1207.6,1381.9 1208.4,1386.4 1208.3,1391.0 1207.1,1397.0 1204.7,1403.0 1202.1,1407.5 1198.9,1412.0 1194.9,1416.5 1190.1,1421.0 1184.5,1425.5 1173.2,1433.1 1158.8,1440.6 1140.7,1448.1 1120.3,1455.0 1097.9,1461.4 1073.0,1467.6 1039.7,1475.2 894.2,1506.2 636.7,1561.8 440.5,1604.7 403.1,1612.4 374.7,1617.4 349.2,1620.6 328.2,1621.9 319.3,1621.9 310.3,1621.4 301.3,1620.4 293.8,1619.1 286.3,1617.2 279.9,1615.0 273.4,1612.0 268.3,1608.9 262.8,1604.5 259.4,1600.6 256.1,1595.4 254.4,1590.9 253.6,1586.4 253.8,1580.4 255.5,1574.4 257.8,1569.9 262.3,1563.9 266.9,1559.4 272.5,1554.8 279.3,1550.3 287.5,1545.8 296.9,1541.3 307.7,1536.8 319.8,1532.3 333.1,1527.8 352.5,1521.8 389.9,1511.2 449.3,1496.2 527.5,1478.2 783.9,1422.5 924.7,1392.5 992.0,1378.9 1049.9,1368.4 1094.9,1361.5 1112.8,1359.3ZM1107.4,1660.1 1117.3,1659.7 1127.8,1659.7 1136.8,1660.1 1144.3,1661.0 1151.8,1662.3 1157.7,1664.0 1163.3,1666.1 1168.2,1668.9 1172.2,1672.1 1174.7,1675.1 1176.3,1678.1 1177.6,1682.7 1177.8,1687.2 1177.0,1691.7 1175.5,1696.2 1172.4,1702.2 1169.2,1706.7 1165.2,1711.5 1159.6,1717.2 1154.4,1721.7 1147.3,1727.2 1139.8,1732.3 1124.1,1741.3 1105.3,1750.3 1084.4,1758.7 1061.9,1766.3 1035.0,1774.3 994.5,1784.7 939.1,1797.4 632.2,1863.9 576.8,1875.6 537.9,1883.5 504.9,1889.5 478.0,1893.8 449.5,1897.1 425.6,1898.6 415.1,1898.7 404.6,1898.5 394.1,1897.7 385.1,1896.6 376.2,1894.9 368.7,1892.9 361.2,1890.2 355.2,1887.2 350.5,1884.1 346.2,1880.3 343.4,1876.6 341.3,1872.1 340.5,1867.6 340.7,1863.1 342.0,1858.6 345.1,1852.6 349.7,1846.6 354.2,1842.0 361.6,1836.0 368.2,1831.5 378.5,1825.5 387.4,1821.0 397.3,1816.5 408.4,1812.0 433.9,1802.9 463.9,1793.9 486.3,1787.9 510.4,1781.9 575.7,1766.9 846.3,1708.2 959.1,1684.2 1003.9,1675.1 1045.5,1667.6 1078.4,1662.8 1093.4,1661.2Z"/>
<path d="M1065.6,1124.8 1084.4,1123.9 1100.8,1124.3 1108.3,1125.0 1115.8,1126.2 1121.8,1127.6 1127.6,1129.3 1132.3,1131.2 1137.3,1133.8 1141.5,1136.8 1144.5,1139.8 1146.5,1142.9 1147.8,1145.9 1148.5,1148.9 1148.3,1153.4 1147.6,1156.4 1146.3,1159.4 1143.4,1163.9 1140.9,1166.9 1136.2,1171.4 1132.4,1174.4 1123.1,1180.4 1114.5,1185.0 1108.0,1188.0 1093.1,1194.0 1075.4,1200.0 1055.0,1206.0 1032.2,1212.0 1007.3,1218.0 926.3,1236.1 452.6,1338.3 402.3,1348.8 362.9,1356.4 337.2,1360.4 317.8,1362.8 299.8,1363.9 284.8,1363.6 278.8,1362.9 272.8,1361.9 266.9,1360.2 262.4,1358.3 259.2,1356.4 255.7,1353.4 253.5,1350.4 252.2,1347.3 251.5,1342.8 252.0,1338.3 253.5,1333.8 256.8,1327.8 260.9,1322.5 265.9,1317.3 271.3,1312.6 278.8,1307.1 286.6,1302.2 294.8,1297.7 304.2,1293.2 313.3,1289.3 323.7,1285.3 335.7,1281.1 361.2,1273.6 395.6,1264.8 446.5,1253.4 949.6,1144.8 990.0,1136.4 1018.5,1131.1 1043.9,1127.2ZM1108.4,1366.9 1127.8,1366.4 1142.8,1367.3 1150.3,1368.4 1156.2,1369.8 1161.4,1371.4 1166.7,1373.8 1170.3,1375.9 1174.2,1379.1 1177.2,1382.8 1179.1,1386.4 1180.0,1389.4 1180.4,1394.0 1179.8,1398.5 1178.4,1403.0 1176.2,1407.5 1173.2,1412.0 1169.3,1416.5 1166.3,1419.5 1156.9,1427.0 1144.7,1434.6 1130.8,1441.3 1113.8,1448.1 1095.6,1454.1 1072.4,1460.7 1041.0,1468.5 997.8,1478.2 489.7,1587.9 434.5,1599.4 398.6,1605.9 374.7,1609.2 353.7,1610.8 335.7,1610.7 326.7,1610.0 319.3,1608.9 312.4,1607.5 305.8,1605.5 299.6,1603.0 294.2,1600.0 290.2,1596.9 286.3,1593.0 283.9,1589.4 282.0,1584.9 281.3,1580.4 281.6,1575.9 282.4,1572.9 283.6,1569.9 286.3,1565.4 291.5,1559.4 296.7,1554.8 303.0,1550.3 310.6,1545.8 319.5,1541.3 329.7,1536.8 341.1,1532.3 353.8,1527.8 382.5,1518.8 420.5,1508.2 475.1,1494.7 547.9,1478.2 825.8,1418.0 932.1,1395.5 992.9,1383.4 1036.5,1375.7 1076.9,1369.9 1093.4,1368.1ZM1055.7,1685.7 1069.4,1685.5 1081.4,1686.3 1086.3,1687.2 1091.9,1688.7 1095.4,1690.2 1097.9,1691.7 1099.7,1693.2 1101.8,1696.2 1102.3,1697.7 1102.4,1700.7 1101.6,1703.7 1100.1,1706.7 1098.0,1709.7 1095.2,1712.7 1088.0,1718.7 1078.6,1724.8 1067.9,1730.3 1056.8,1735.3 1041.1,1741.3 1026.0,1746.3 1007.5,1751.8 985.0,1757.8 947.5,1766.9 900.6,1777.4 650.2,1831.5 571.4,1848.1 543.9,1853.4 521.4,1857.3 498.9,1860.6 478.0,1862.8 461.5,1863.6 446.5,1863.2 434.3,1861.6 428.6,1860.1 424.6,1858.6 421.1,1856.6 418.1,1854.1 416.6,1851.8 415.8,1849.6 415.8,1846.6 416.7,1843.5 418.4,1840.5 422.4,1836.0 429.9,1830.0 434.7,1827.0 443.0,1822.5 459.9,1815.0 476.3,1809.0 500.4,1801.4 528.1,1793.9 565.3,1784.9 625.7,1771.4 855.2,1721.7 940.5,1703.7 978.7,1696.2 1011.0,1690.6 1036.5,1687.2Z"/>
<path d="M1050.4,1141.3 1066.4,1140.5 1079.9,1140.7 1091.9,1142.1 1100.8,1144.4 1104.4,1145.9 1108.3,1148.0 1111.3,1150.4 1112.8,1152.1 1114.4,1154.9 1115.0,1157.9 1114.7,1160.9 1113.7,1163.9 1112.0,1166.9 1109.5,1169.9 1106.4,1172.9 1102.7,1175.9 1093.1,1181.9 1084.0,1186.5 1069.4,1192.5 1056.5,1197.0 1041.8,1201.5 1019.7,1207.5 969.1,1219.5 886.7,1237.6 468.7,1327.8 418.5,1338.3 387.5,1344.3 364.2,1348.2 346.2,1350.6 329.7,1352.0 314.8,1352.2 304.3,1351.2 299.8,1350.3 295.1,1348.8 290.8,1346.8 287.8,1344.5 286.3,1342.7 284.9,1339.8 284.4,1336.8 285.2,1332.3 286.6,1329.3 289.6,1324.8 292.3,1321.8 297.4,1317.3 302.8,1313.3 308.3,1309.8 314.8,1306.2 322.8,1302.2 338.7,1295.7 359.6,1288.7 383.6,1282.0 417.9,1273.7 465.3,1263.1 946.1,1159.4 982.6,1151.9 1008.0,1147.2 1030.5,1143.6ZM1081.1,1375.9 1100.8,1375.0 1117.3,1375.5 1124.8,1376.3 1130.8,1377.4 1136.5,1378.9 1140.6,1380.4 1144.3,1382.2 1148.5,1384.9 1151.5,1387.9 1153.5,1391.0 1154.7,1394.0 1155.3,1398.5 1154.9,1401.5 1153.5,1406.0 1152.0,1409.0 1149.0,1413.5 1144.9,1418.0 1141.7,1421.0 1136.8,1424.9 1131.5,1428.5 1121.0,1434.6 1108.1,1440.6 1090.4,1447.4 1070.9,1453.6 1048.4,1459.8 1016.6,1467.6 963.1,1479.7 559.5,1566.9 467.0,1586.4 440.5,1591.6 418.1,1595.5 395.6,1598.6 374.7,1600.5 356.7,1600.7 349.2,1600.3 341.7,1599.5 334.2,1598.2 328.2,1596.6 322.3,1594.3 317.8,1592.0 313.9,1589.4 310.7,1586.4 308.5,1583.4 306.6,1578.9 306.2,1574.4 307.0,1569.9 309.0,1565.4 312.2,1560.9 316.6,1556.4 322.2,1551.8 329.1,1547.3 334.4,1544.3 350.2,1536.8 361.4,1532.3 373.9,1527.8 402.4,1518.8 434.9,1509.7 489.6,1496.2 556.1,1481.2 813.1,1425.5 919.1,1403.0 971.5,1392.5 1014.0,1384.7 1051.4,1379.1Z"/>
<path d="M1023.2,1160.9 1035.0,1159.9 1045.4,1159.7 1054.4,1160.3 1061.9,1161.8 1066.6,1163.9 1068.4,1165.4 1069.4,1166.9 1069.7,1168.4 1069.7,1169.9 1069.2,1171.4 1067.2,1174.4 1064.0,1177.4 1057.2,1181.9 1051.4,1185.0 1040.8,1189.5 1032.6,1192.5 1018.4,1197.0 1002.3,1201.5 984.5,1206.0 931.9,1218.0 800.1,1246.6 479.5,1315.8 413.5,1329.3 396.6,1332.3 376.2,1335.3 362.7,1336.6 352.2,1337.0 343.2,1336.5 335.7,1335.0 332.7,1333.8 330.6,1332.3 329.4,1330.8 328.9,1329.3 328.8,1327.8 329.8,1324.8 330.8,1323.3 333.6,1320.3 339.6,1315.8 344.7,1312.8 350.7,1309.8 365.6,1303.7 379.2,1299.2 394.8,1294.7 418.6,1288.7 492.5,1272.2 931.6,1177.4 984.1,1166.9 1005.0,1163.3ZM1057.3,1384.9 1076.9,1383.7 1091.9,1383.8 1105.3,1385.1 1111.3,1386.3 1115.8,1387.7 1120.1,1389.4 1123.3,1391.3 1126.5,1394.0 1128.7,1397.0 1129.9,1400.0 1130.2,1403.0 1129.8,1406.0 1128.7,1409.0 1127.1,1412.0 1124.9,1415.0 1120.7,1419.5 1117.1,1422.5 1108.4,1428.5 1097.3,1434.6 1083.5,1440.6 1066.9,1446.6 1047.4,1452.6 1025.1,1458.6 987.8,1467.6 934.1,1479.7 593.3,1553.3 493.7,1574.4 463.1,1580.4 437.6,1584.9 415.1,1588.2 394.1,1590.3 377.7,1590.8 370.2,1590.5 362.7,1589.9 356.7,1589.0 350.7,1587.7 344.7,1585.7 340.2,1583.5 337.2,1581.5 334.4,1578.9 332.3,1575.9 331.3,1572.9 331.0,1569.9 332.0,1565.4 333.5,1562.4 336.9,1557.9 341.7,1553.3 347.8,1548.8 355.3,1544.3 361.1,1541.3 378.3,1533.8 399.2,1526.3 423.6,1518.8 456.7,1509.7 506.2,1497.7 566.4,1484.2 802.5,1433.1 908.3,1410.5 960.4,1400.0 996.0,1393.4 1030.5,1388.0Z"/>
<path d="M1042.5,1394.0 1058.9,1393.1 1072.4,1393.3 1082.9,1394.5 1087.8,1395.5 1092.5,1397.0 1095.8,1398.5 1098.1,1400.0 1099.8,1401.5 1101.8,1404.5 1102.3,1406.0 1102.4,1409.0 1101.5,1412.0 1099.8,1415.0 1095.9,1419.5 1092.4,1422.5 1088.3,1425.5 1077.8,1431.5 1068.1,1436.1 1055.9,1440.9 1038.8,1446.6 1023.5,1451.1 1000.7,1457.1 963.0,1466.1 909.2,1478.2 624.1,1539.8 517.6,1562.4 487.4,1568.4 462.7,1572.9 439.0,1576.6 419.6,1578.9 403.1,1579.9 389.6,1579.8 377.7,1578.4 373.2,1577.4 368.7,1575.9 364.2,1573.5 361.5,1571.4 359.7,1568.9 358.9,1566.9 358.7,1563.9 359.6,1560.9 361.2,1557.9 365.3,1553.3 368.9,1550.3 373.2,1547.3 378.2,1544.3 387.1,1539.8 401.2,1533.8 422.6,1526.3 447.6,1518.8 475.9,1511.2 519.5,1500.7 586.7,1485.7 816.2,1436.1 908.1,1416.5 953.1,1407.5 986.2,1401.5 1015.5,1396.9Z"/>
<path d="M1013.2,1406.0 1027.5,1404.9 1039.5,1404.6 1049.9,1405.2 1057.4,1406.6 1060.3,1407.5 1063.4,1409.0 1065.2,1410.5 1066.3,1412.0 1066.8,1413.5 1066.8,1415.0 1066.4,1416.5 1064.7,1419.5 1059.9,1424.0 1053.0,1428.5 1043.9,1433.1 1032.9,1437.6 1019.9,1442.1 1005.2,1446.6 971.1,1455.6 932.8,1464.6 885.5,1475.2 635.2,1529.3 542.9,1548.8 488.6,1559.4 469.0,1562.6 449.5,1565.2 434.5,1566.6 422.6,1567.0 413.6,1566.7 404.6,1565.4 400.0,1563.9 397.3,1562.4 395.7,1560.9 394.8,1559.4 394.4,1557.9 395.0,1554.8 397.0,1551.8 400.1,1548.8 406.6,1544.3 418.4,1538.3 433.5,1532.3 451.4,1526.3 472.0,1520.3 500.8,1512.7 545.2,1502.2 599.3,1490.2 892.7,1427.0 929.7,1419.5 961.6,1413.5 989.2,1409.0Z"/>
<path d="M982.3,1424.0 990.0,1424.0 994.5,1424.5 998.1,1425.5 999.5,1427.0 999.2,1428.5 997.9,1430.0 995.9,1431.5 987.0,1436.1 974.7,1440.6 954.6,1446.6 931.4,1452.6 899.7,1460.1 824.9,1476.7 643.8,1515.8 579.9,1529.3 542.1,1536.8 507.3,1542.8 495.9,1544.4 484.0,1545.6 475.0,1545.9 469.0,1545.6 464.0,1544.3 462.9,1542.8 463.4,1541.3 464.8,1539.8 469.4,1536.8 479.6,1532.3 492.4,1527.8 507.4,1523.3 524.1,1518.8 574.2,1506.7 635.3,1493.2 753.4,1467.6 887.7,1439.1 918.3,1433.1 943.9,1428.5 964.8,1425.5Z"/>
<path d="M1272.2,1072.2 1279.7,1079.7 1285.4,1087.2 1288.1,1091.7 1290.2,1096.2 1292.8,1103.8 1293.7,1108.3 1294.2,1112.8 1294.3,1117.3 1294.0,1121.8 1293.2,1126.3 1291.9,1130.8 1288.8,1138.3 1284.2,1145.9 1277.8,1153.4 1271.1,1159.4 1262.6,1165.4 1253.6,1170.6 1241.9,1175.9 1230.2,1180.4 1214.6,1185.5 1189.9,1192.5 1159.6,1200.0 1066.4,1221.0 823.9,1273.7 356.1,1374.4 283.3,1389.5 239.9,1397.6 221.9,1400.4 207.0,1402.3 193.5,1403.4 183.0,1403.7 174.0,1403.3 166.5,1402.4 159.0,1400.8 153.1,1398.7 147.1,1395.7 142.6,1392.5 139.5,1389.4 136.0,1384.9 133.5,1380.4 131.3,1374.4 130.1,1368.4 129.7,1360.9 130.1,1354.9 131.4,1347.3 133.6,1339.8 136.4,1332.3 139.2,1326.3 143.3,1318.8 148.2,1311.3 153.7,1303.7 160.0,1296.2 165.5,1290.2 172.5,1283.3 180.0,1276.5 187.5,1270.3 196.5,1263.4 207.0,1256.1 215.9,1250.3 226.4,1244.1 236.9,1238.3 257.9,1227.9 271.3,1222.0 283.3,1217.2 298.3,1211.6 313.3,1206.6 328.2,1202.0 347.7,1196.4 389.6,1185.9 436.0,1175.2 504.9,1160.0 911.4,1072.2M1246.6,1321.8 1258.1,1320.7 1267.0,1320.4 1274.5,1320.6 1282.0,1321.5 1289.5,1323.2 1295.5,1325.4 1301.5,1328.7 1306.2,1332.3 1310.5,1336.8 1314.5,1342.8 1317.1,1348.8 1318.8,1354.9 1319.6,1362.4 1319.3,1369.9 1317.7,1377.4 1315.6,1383.4 1312.7,1389.4 1309.9,1394.0 1305.4,1400.0 1301.3,1404.5 1294.7,1410.5 1288.9,1415.0 1282.3,1419.5 1274.7,1424.0 1266.1,1428.5 1258.1,1432.3 1237.6,1440.6 1215.0,1448.1 1188.4,1455.6 1162.2,1462.0 1132.3,1468.5 982.8,1497.7 847.3,1526.3 616.7,1575.9 536.4,1593.5 478.0,1606.8 389.6,1628.1 358.2,1635.3 329.7,1641.1 304.3,1645.4 290.8,1647.2 277.3,1648.4 265.4,1649.0 254.9,1649.1 244.4,1648.6 235.4,1647.6 226.4,1645.9 217.4,1643.5 209.4,1640.6 202.5,1637.2 195.8,1633.0 189.0,1627.4 184.3,1622.5 180.0,1616.5 176.8,1610.5 174.2,1603.0 173.2,1596.9 173.1,1590.9 174.0,1584.9 175.3,1580.4 177.4,1575.9 180.3,1571.4 184.1,1566.9 189.1,1562.4 195.5,1557.9 200.6,1554.8 206.6,1551.8 215.9,1547.9 235.2,1541.3 262.1,1533.8 415.6,1496.2 492.6,1478.2 587.9,1457.1 831.4,1404.5 923.0,1384.9 989.1,1371.4 1109.8,1347.9 1207.2,1328.3 1229.6,1324.2ZM229.5,1927.7 224.5,1920.2 222.3,1915.7 220.6,1911.2 218.8,1903.7 218.4,1899.2 218.4,1894.7 218.9,1890.2 219.8,1885.6 221.1,1881.1 222.9,1876.6 225.1,1872.1 227.8,1867.6 233.4,1860.1 240.4,1852.6 249.0,1845.0 259.7,1837.5 269.8,1831.5 281.7,1825.5 295.6,1819.5 311.6,1813.5 331.2,1807.0 355.7,1799.9 390.4,1790.9 427.9,1781.9 480.7,1769.9 916.0,1675.1 1062.9,1643.6 1136.8,1628.5 1168.2,1622.6 1193.7,1618.2 1214.6,1615.1 1232.6,1612.9 1249.1,1611.6 1262.6,1611.2 1271.5,1611.4 1280.5,1612.2 1288.0,1613.4 1294.4,1615.0 1300.0,1617.0 1306.0,1619.9 1310.5,1622.9 1314.9,1627.0 1318.4,1631.5 1320.9,1636.0 1323.0,1642.1 1324.0,1648.1 1324.3,1654.1 1323.8,1661.6 1322.7,1667.6 1320.7,1675.1 1317.9,1682.7 1314.5,1690.2 1310.4,1697.7 1305.7,1705.2 1300.4,1712.7 1294.4,1720.2 1287.8,1727.8 1280.5,1735.3 1273.0,1742.3 1265.5,1748.8 1256.6,1756.0 1247.6,1762.6 1238.6,1768.8 1228.1,1775.4 1207.2,1787.2 1192.2,1794.6 1178.7,1800.8 1160.7,1808.2 1144.3,1814.4 1126.3,1820.5 1106.8,1826.6 1087.4,1832.2 1063.4,1838.6 1021.5,1848.8 967.6,1860.9 657.1,1927.7"/>
</g>
<g font-family="'Liberation Serif',serif" font-weight="bold" font-size="29" fill="#747474"><g transform="translate(713.7,1226.1) rotate(-12)"><rect x="-28.1" y="-13.1" width="56.2" height="26.1" fill="#fff"/><text y="9.7" text-anchor="middle">1.0</text></g><g transform="translate(700.1,1270.2) rotate(-12)"><rect x="-28.1" y="-13.1" width="56.2" height="26.1" fill="#fff"/><text y="9.7" text-anchor="middle">1.0</text></g><g transform="translate(773.8,1291.5) rotate(-12)"><rect x="-33.0" y="-13.1" width="65.9" height="26.1" fill="#fff"/><text y="9.7" text-anchor="middle">-0.2</text></g><g transform="translate(705.7,1322.3) rotate(-12)"><rect x="-33.0" y="-13.1" width="65.9" height="26.1" fill="#fff"/><text y="9.7" text-anchor="middle">-1.4</text></g><g transform="translate(371.4,1306.3) rotate(-14)"><rect x="-28.1" y="-13.1" width="56.2" height="26.1" fill="#fff"/><text y="9.7" text-anchor="middle">1.0</text></g><g transform="translate(421.1,1368.4) rotate(-12)"><rect x="-33.0" y="-13.1" width="65.9" height="26.1" fill="#fff"/><text y="9.7" text-anchor="middle">-0.2</text></g><g transform="translate(788.3,1390.5) rotate(-12)"><rect x="-33.0" y="-13.1" width="65.9" height="26.1" fill="#fff"/><text y="9.7" text-anchor="middle">-1.4</text></g><g transform="translate(699.7,1424.6) rotate(-12)"><rect x="-33.0" y="-13.1" width="65.9" height="26.1" fill="#fff"/><text y="9.7" text-anchor="middle">-0.2</text></g><g transform="translate(686.9,1456.3) rotate(-12)"><rect x="-28.1" y="-13.1" width="56.2" height="26.1" fill="#fff"/><text y="9.7" text-anchor="middle">1.0</text></g><g transform="translate(432.0,1468.4) rotate(-12)"><rect x="-33.0" y="-13.1" width="65.9" height="26.1" fill="#fff"/><text y="9.7" text-anchor="middle">-1.4</text></g><g transform="translate(1033.2,1196.9) rotate(-12)"><rect x="-28.1" y="-13.1" width="56.2" height="26.1" fill="#fff"/><text y="9.7" text-anchor="middle">1.0</text></g><g transform="translate(1127.4,1236.2) rotate(12)"><rect x="-33.0" y="-13.1" width="65.9" height="26.1" fill="#fff"/><text y="9.7" text-anchor="middle">-0.2</text></g><g transform="translate(1062.5,1264.2) rotate(2)"><rect x="-33.0" y="-13.1" width="65.9" height="26.1" fill="#fff"/><text y="9.7" text-anchor="middle">-1.4</text></g><g transform="translate(1050.5,1352.4) rotate(-12)"><rect x="-33.0" y="-13.1" width="65.9" height="26.1" fill="#fff"/><text y="9.7" text-anchor="middle">-0.2</text></g><g transform="translate(1016.4,1384.5) rotate(-12)"><rect x="-28.1" y="-13.1" width="56.2" height="26.1" fill="#fff"/><text y="9.7" text-anchor="middle">1.0</text></g><g transform="translate(348.9,1499.3) rotate(-15)"><rect x="-33.0" y="-13.1" width="65.9" height="26.1" fill="#fff"/><text y="9.7" text-anchor="middle">-0.2</text></g><g transform="translate(346.1,1527.4) rotate(-15)"><rect x="-28.1" y="-13.1" width="56.2" height="26.1" fill="#fff"/><text y="9.7" text-anchor="middle">1.0</text></g><g transform="translate(634.7,1546.2) rotate(-12)"><rect x="-28.1" y="-13.1" width="56.2" height="26.1" fill="#fff"/><text y="9.7" text-anchor="middle">1.0</text></g><g transform="translate(718.9,1566.3) rotate(-12)"><rect x="-33.0" y="-13.1" width="65.9" height="26.1" fill="#fff"/><text y="9.7" text-anchor="middle">-0.2</text></g><g transform="translate(373.0,1632.4) rotate(-10)"><rect x="-33.0" y="-13.1" width="65.9" height="26.1" fill="#fff"/><text y="9.7" text-anchor="middle">-0.2</text></g><g transform="translate(612.7,1687.7) rotate(-12)"><rect x="-33.0" y="-13.1" width="65.9" height="26.1" fill="#fff"/><text y="9.7" text-anchor="middle">-1.4</text></g><g transform="translate(468.4,1742.6) rotate(-5)"><rect x="-33.0" y="-13.1" width="65.9" height="26.1" fill="#fff"/><text y="9.7" text-anchor="middle">-0.2</text></g><g transform="translate(831.0,1675.0) rotate(-12)"><rect x="-33.0" y="-13.1" width="65.9" height="26.1" fill="#fff"/><text y="9.7" text-anchor="middle">-0.2</text></g><g transform="translate(966.3,1482.1) rotate(-12)"><rect x="-28.1" y="-13.1" width="56.2" height="26.1" fill="#fff"/><text y="9.7" text-anchor="middle">1.0</text></g><g transform="translate(1075.3,1494.1) rotate(-8)"><rect x="-33.0" y="-13.1" width="65.9" height="26.1" fill="#fff"/><text y="9.7" text-anchor="middle">-0.2</text></g><g transform="translate(897.3,1553.4) rotate(-12)"><rect x="-33.0" y="-13.1" width="65.9" height="26.1" fill="#fff"/><text y="9.7" text-anchor="middle">-1.4</text></g><g transform="translate(961.5,1615.2) rotate(-12)"><rect x="-33.0" y="-13.1" width="65.9" height="26.1" fill="#fff"/><text y="9.7" text-anchor="middle">-1.4</text></g><g transform="translate(1182.0,1609.2) rotate(-10)"><rect x="-33.0" y="-13.1" width="65.9" height="26.1" fill="#fff"/><text y="9.7" text-anchor="middle">-0.2</text></g></g>
<g transform="translate(2.6,1054.4)">
<path d="M482.5,235.9 987.5,123.4 1071.2,283.6 852.5,333.4 914.7,442.4 1023.7,563.7 788.1,635.8 619.3,723.7 456.5,623.0 381.8,581.3 356.5,466.1 540.0,418.0 533.7,405.3 566.6,397.7 552.3,374.5Z" fill="none" stroke="#2fdcf0" stroke-width="2.0" stroke-linejoin="miter"/>
<path d="M345.0,662.0 388.0,639.5 399.5,652.0 456.5,623.0 507.0,713.0 471.6,758.5 478.7,795.0 427.3,824.3 406.3,805.3Z" fill="none" stroke="#2fdcf0" stroke-width="2.0" stroke-linejoin="miter"/>
<g fill="none" stroke="#3141f0" stroke-linejoin="miter">
<path d="M217.8,454.9L1172.3,198.8L1187.8,257.4L260.3,503.7" stroke-width="2.9"/>
<path d="M1168.8,201.5L1183.5,256.5L297,494.6" stroke-width="1.1"/>
<path d="M264,509L1190,265L1205.6,323L278.1,568.6" stroke-width="2.8"/>
<path d="M1186.3,267.6L1201.3,322L315,559.6" stroke-width="1.1"/>
<path d="M283.5,574.8L1207.7,329.5L1223.3,388L315.3,629" stroke-width="2.8"/>
<path d="M1204,332.2L1219,387L332,626.3" stroke-width="1.1"/>
<path d="M217.8,454.9L229,452M260.3,503.7L297.5,494.4M278.1,568.6L315.3,559.4M315.3,629L332.3,625.4" stroke-width="5"/>
</g>
<g fill="none" stroke="#3141f0" stroke-width="2.5" stroke-linejoin="round" stroke-linecap="round">
<path d="M173.5,332.5L346.6,625.0M208.1,398.0L342.9,625.0M198.1,392.0L337.1,625.0M201.3,405.0L318.1,600.0M189.9,398.0L326.7,625.0M188.2,402.0L323.0,625.0M183.4,404.0L321.8,632.0M158.6,372.0L317.1,632.0M346.6,625.0L428.5,741.0M342.9,625.0L425.0,743.5M326.7,625.0L400.8,728.0M323.0,625.0L397.2,730.0M173.5,332.5L171.2,334.8L170.2,340L170.8,358.4L156.8,368.2L152.9,370.2L157.8,373.4L173.6,396.8M172.6,342.6L174.5,357.4L188.3,388.9L196.2,401.7M170.8,358.4L176,372L186,392L193,404M173.6,396.8L181.4,399.9L194.2,399L208,395.8L219.8,389.9L247.4,376.1L285,354.6L304.5,349L303.8,343L308,339.5M176,395L182,397.6L194,396.6L207.5,393.4L219,387.6L246.5,374L284.5,352.6M304.5,349L285,352.3L215.9,354.5L206,359.4L201.8,363.5L202.1,371.2L208,383L212.9,384.2L214.5,392M209,360.4L213.9,370.2L218.3,368.7L221.3,375.1L210,381M233.6,386L248.4,378.1L265.6,410.6L263.1,413.5L247.4,421.4L245.4,418.5M237.5,387.9L244.4,388.9L256.3,407.6L254.3,410.6L244.4,414.5M227.7,403.7L232.6,399.7L239.5,408.6L231.6,414.5L232.6,425L224,438M213.9,397.8L220.8,406.6L219.8,414.5L208,421.4M222,412L245,421.5L236,440L226,445M215,420L230,444M203,402L226,440M199,408L221,446M226,462L246,472M232,478L256,516M244,476L258,502M276,522L283,540L274,547L266,534"/><path d="M306,338.5h5v4h-5zM151,368h4v4h-4z" stroke-width="1.6"/><path d="M318,632L326,648L338,660L352,664" stroke-dasharray="5,3"/><path d="M337.7,626L371.6,671.5" stroke-dasharray="5,2.5"/><path d="M333,604L339,601L345,612L341,616" stroke-width="1.6"/><path d="M340,640L349,647L352,640L346,628" stroke-width="1.6"/>
</g>
<g fill="#3141f0"><circle cx="371.6" cy="671.5" r="7.6"/><circle cx="400.8" cy="730.8" r="7.6"/><circle cx="429.9" cy="744" r="7.6"/></g>
<g font-family="'Liberation Serif',serif" fill="#262626">
<text transform="translate(417.2,423.4) rotate(-12.9)" font-size="17.5" textLength="202.5" lengthAdjust="spacing">51006 Coal Mining Face</text>
<text transform="translate(436,497.5) rotate(-12.75)" font-size="17.5" textLength="202.5" lengthAdjust="spacing">51006 Coal Mining Face</text>
<text transform="translate(459,560.6) rotate(-12.9)" font-size="17.5" textLength="202.5" lengthAdjust="spacing">51006 Coal Mining Face</text>
<text x="138.2" y="436.6" font-size="18.5">Mine</text><text x="131.5" y="457.7" font-size="18.5">Tunnel</text>
<text x="526.1" y="782" font-size="20" textLength="209" lengthAdjust="spacing">Mine Industrial Square</text>
<text x="791.4" y="695" font-size="20" textLength="354.4" lengthAdjust="spacing">Protection Scope of Ground Structures</text>
</g>
<g stroke="#262626" stroke-width="1.2" fill="none"><path d="M131.5,465.7H191.8L222,482.6"/><path d="M525,778L489.5,745.5"/><path d="M790.5,688.4L755.5,657"/></g>
<g fill="#262626"><path d="M227,485.4L211.6,482.2L214.6,476.2Z"/><path d="M485.8,742.2L497.6,748.4L492.6,753.6Z"/><path d="M752.2,654L764,660.3L759,665.5Z"/></g>
</g>
</svg>
</body></html>
